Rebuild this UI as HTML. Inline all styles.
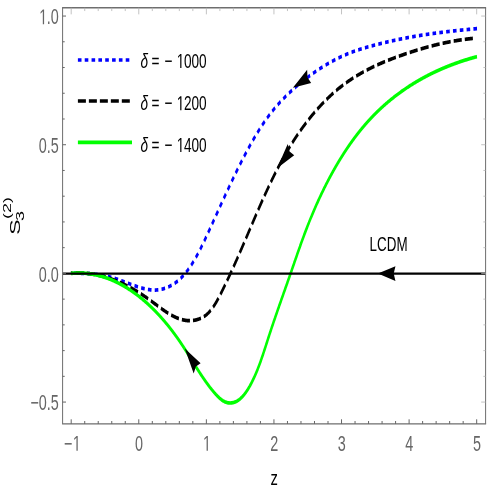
<!DOCTYPE html>
<html><head><meta charset="utf-8"><title>plot</title>
<style>
html,body{margin:0;padding:0;background:#fff;}
svg{display:block;font-family:"Liberation Sans",sans-serif;will-change:transform;opacity:0.999;filter:blur(0.35px);}
.tk{stroke:#666;stroke-width:1;}
.tk2{stroke:#b4b4b4;stroke-width:0.8;}
</style></head>
<body>
<svg width="491" height="491" viewBox="0 0 491 491">
<rect x="0" y="0" width="491" height="491" fill="#fff"/>
<g transform="scale(0.655 1)" fill="none" stroke-linecap="butt" stroke-linejoin="round">
<path d="M728.26,28.64 L727.74,28.67 L727.23,28.69 L726.71,28.72 L726.20,28.75 L725.69,28.78 L725.17,28.81 L724.66,28.84 L724.14,28.87 L723.63,28.90 L723.12,28.94 L722.60,28.97 L722.09,29.00 L721.57,29.03 L721.06,29.06 L720.55,29.09 L720.03,29.12 L719.52,29.15 L719.01,29.18 L718.49,29.21 L717.98,29.24 L717.46,29.28 L716.95,29.31 L716.44,29.34 L715.92,29.37 L715.41,29.40 L714.90,29.43 L714.38,29.47 L713.87,29.50 L713.36,29.53 L712.84,29.56 L712.33,29.60 L711.81,29.63 L711.30,29.66 L710.79,29.69 L710.27,29.73 L709.76,29.76 L709.25,29.79 L708.73,29.83 L708.22,29.86 L707.71,29.89 L707.19,29.93 L706.68,29.96 L706.17,29.99 L705.65,30.03 L705.14,30.06 L704.63,30.09 L704.11,30.13 L703.60,30.16 L703.09,30.20 L702.58,30.23 L702.06,30.27 L701.55,30.30 L701.04,30.34 L700.52,30.37 L700.01,30.41 L699.50,30.44 L698.98,30.48 L698.47,30.51 L697.96,30.55 L697.45,30.58 L696.93,30.62 L696.42,30.66 L695.91,30.69 L695.39,30.73 L694.88,30.77 L694.37,30.80 L693.86,30.84 L693.34,30.88 L692.83,30.91 L692.32,30.95 L691.80,30.99 L691.29,31.02 L690.78,31.06 L690.27,31.10 L689.75,31.14 L689.24,31.18 L688.73,31.21 L688.22,31.25 L687.70,31.29 L687.19,31.33 L686.68,31.37 L686.17,31.41 L685.65,31.45 L685.14,31.48 L684.63,31.52 L684.12,31.56 L683.60,31.60 L683.09,31.64 L682.58,31.68 L682.07,31.72 L681.55,31.76 L681.04,31.80 L680.53,31.84 L680.02,31.88 L679.51,31.93 L678.99,31.97 L678.48,32.01 L677.97,32.05 L677.46,32.09 L676.95,32.13 L676.43,32.17 L675.92,32.22 L675.41,32.26 L674.90,32.30 L674.38,32.34 L673.87,32.38 L673.36,32.43 L672.85,32.47 L672.34,32.51 L671.82,32.56 L671.31,32.60 L670.80,32.64 L670.29,32.69 L669.78,32.73 L669.27,32.77 L668.75,32.82 L668.24,32.86 L667.73,32.91 L667.22,32.95 L666.71,33.00 L666.19,33.04 L665.68,33.09 L665.17,33.13 L664.66,33.18 L664.15,33.22 L663.64,33.27 L663.12,33.32 L662.61,33.36 L662.10,33.41 L661.59,33.46 L661.08,33.50 L660.57,33.55 L660.05,33.60 L659.54,33.64 L659.03,33.69 L658.52,33.74 L658.01,33.79 L657.50,33.84 L656.99,33.88 L656.47,33.93 L655.96,33.98 L655.45,34.03 L654.94,34.08 L654.43,34.13 L653.92,34.18 L653.41,34.23 L652.89,34.28 L652.38,34.33 L651.87,34.38 L651.36,34.43 L650.85,34.48 L650.34,34.53 L649.83,34.58 L649.32,34.63 L648.80,34.68 L648.29,34.74 L647.78,34.79 L647.27,34.84 L646.76,34.89 L646.25,34.95 L645.74,35.00 L645.23,35.05 L644.71,35.10 L644.20,35.16 L643.69,35.21 L643.18,35.26 L642.67,35.32 L642.16,35.37 L641.65,35.43 L641.14,35.48 L640.63,35.54 L640.12,35.59 L639.60,35.65 L639.09,35.70 L638.58,35.76 L638.07,35.81 L637.56,35.87 L637.05,35.93 L636.54,35.98 L636.03,36.04 L635.52,36.10 L635.01,36.15 L634.50,36.21 L633.98,36.27 L633.47,36.33 L632.96,36.39 L632.45,36.44 L631.94,36.50 L631.43,36.56 L630.92,36.62 L630.41,36.68 L629.90,36.74 L629.39,36.80 L628.88,36.86 L628.37,36.92 L627.86,36.98 L627.35,37.04 L626.84,37.10 L626.32,37.16 L625.81,37.22 L625.30,37.28 L624.79,37.35 L624.28,37.41 L623.77,37.47 L623.26,37.53 L622.75,37.60 L622.24,37.66 L621.73,37.72 L621.22,37.79 L620.71,37.85 L620.20,37.91 L619.69,37.98 L619.18,38.04 L618.67,38.11 L618.16,38.17 L617.65,38.24 L617.14,38.30 L616.63,38.37 L616.12,38.43 L615.61,38.50 L615.09,38.57 L614.58,38.63 L614.07,38.70 L613.56,38.77 L613.05,38.84 L612.54,38.90 L612.03,38.97 L611.52,39.04 L611.01,39.11 L610.50,39.18 L609.99,39.25 L609.48,39.32 L608.97,39.38 L608.46,39.45 L607.95,39.52 L607.44,39.59 L606.93,39.67 L606.42,39.74 L605.91,39.81 L605.40,39.88 L604.89,39.95 L604.38,40.02 L603.87,40.09 L603.36,40.17 L602.85,40.24 L602.34,40.31 L601.83,40.38 L601.33,40.46 L600.82,40.53 L600.31,40.60 L599.80,40.68 L599.29,40.75 L598.78,40.83 L598.27,40.90 L597.76,40.98 L597.25,41.05 L596.74,41.13 L596.23,41.20 L595.72,41.28 L595.21,41.35 L594.70,41.43 L594.19,41.51 L593.69,41.58 L593.18,41.66 L592.67,41.74 L592.16,41.82 L591.65,41.89 L591.14,41.97 L590.63,42.05 L590.12,42.13 L589.62,42.21 L589.11,42.29 L588.60,42.37 L588.09,42.45 L587.58,42.53 L587.07,42.61 L586.56,42.69 L586.06,42.77 L585.55,42.85 L585.04,42.93 L584.53,43.01 L584.02,43.09 L583.52,43.17 L583.01,43.25 L582.50,43.34 L581.99,43.42 L581.48,43.50 L580.98,43.59 L580.47,43.67 L579.96,43.75 L579.45,43.84 L578.95,43.92 L578.44,44.00 L577.93,44.09 L577.43,44.17 L576.92,44.26 L576.41,44.34 L575.90,44.43 L575.40,44.51 L574.89,44.60 L574.38,44.69 L573.88,44.77 L573.37,44.86 L572.86,44.95 L572.36,45.03 L571.85,45.12 L571.35,45.21 L570.84,45.30 L570.33,45.38 L569.83,45.47 L569.32,45.56 L568.82,45.65 L568.31,45.74 L567.80,45.83 L567.30,45.92 L566.79,46.01 L566.29,46.10 L565.78,46.19 L565.28,46.28 L564.77,46.37 L564.27,46.46 L563.76,46.55 L563.26,46.65 L562.75,46.74 L562.25,46.83 L561.74,46.93 L561.24,47.02 L560.73,47.11 L560.23,47.21 L559.73,47.30 L559.22,47.40 L558.72,47.50 L558.21,47.59 L557.71,47.69 L557.21,47.79 L556.70,47.88 L556.20,47.98 L555.70,48.08 L555.19,48.18 L554.69,48.28 L554.19,48.38 L553.69,48.48 L553.18,48.58 L552.68,48.68 L552.18,48.79 L551.68,48.89 L551.17,48.99 L550.67,49.10 L550.17,49.20 L549.67,49.31 L549.17,49.41 L548.67,49.52 L548.17,49.63 L547.66,49.73 L547.16,49.84 L546.66,49.95 L546.16,50.06 L545.66,50.17 L545.16,50.28 L544.66,50.39 L544.16,50.51 L543.66,50.62 L543.16,50.73 L542.66,50.85 L542.16,50.96 L541.66,51.08 L541.16,51.20 L540.66,51.31 L540.17,51.43 L539.67,51.55 L539.17,51.67 L538.67,51.79 L538.17,51.91 L537.67,52.03 L537.18,52.16 L536.68,52.28 L536.18,52.41 L535.68,52.53 L535.19,52.66 L534.69,52.78 L534.19,52.91 L533.70,53.04 L533.20,53.17 L532.70,53.30 L532.21,53.43 L531.71,53.57 L531.22,53.70 L530.72,53.83 L530.22,53.97 L529.73,54.10 L529.23,54.24 L528.74,54.38 L528.25,54.52 L527.75,54.66 L527.26,54.80 L526.76,54.94 L526.27,55.08 L525.78,55.22 L525.28,55.36 L524.79,55.51 L524.30,55.65 L523.80,55.80 L523.31,55.95 L522.82,56.09 L522.33,56.24 L521.83,56.39 L521.34,56.54 L520.85,56.69 L520.36,56.85 L519.87,57.00 L519.38,57.15 L518.89,57.31 L518.40,57.46 L517.91,57.62 L517.42,57.77 L516.93,57.93 L516.44,58.09 L515.95,58.25 L515.46,58.41 L514.97,58.57 L514.48,58.73 L513.99,58.90 L513.51,59.06 L513.02,59.22 L512.53,59.39 L512.04,59.55 L511.55,59.72 L511.07,59.89 L510.58,60.06 L510.09,60.22 L509.61,60.39 L509.12,60.56 L508.64,60.74 L508.15,60.91 L507.67,61.08 L507.18,61.25 L506.70,61.43 L506.21,61.60 L505.73,61.78 L505.24,61.96 L504.76,62.13 L504.28,62.31 L503.79,62.49 L503.31,62.67 L502.83,62.85 L502.34,63.03 L501.86,63.22 L501.38,63.40 L500.90,63.58 L500.42,63.77 L499.94,63.95 L499.46,64.14 L498.98,64.33 L498.50,64.51 L498.02,64.70 L497.54,64.89 L497.06,65.08 L496.58,65.27 L496.10,65.46 L495.62,65.65 L495.14,65.85 L494.66,66.04 L494.19,66.23 L493.71,66.43 L493.23,66.62 L492.75,66.82 L492.28,67.02 L491.80,67.22 L491.32,67.41 L490.85,67.61 L490.37,67.81 L489.90,68.01 L489.42,68.22 L488.95,68.42 L488.47,68.62 L488.00,68.82 L487.53,69.03 L487.05,69.23 L486.58,69.44 L486.11,69.64 L485.64,69.85 L485.16,70.06 L484.69,70.27 L484.22,70.48 L483.75,70.69 L483.28,70.90 L482.81,71.11 L482.34,71.32 L481.87,71.53 L481.40,71.75 L480.93,71.96 L480.46,72.18 L479.99,72.39 L479.52,72.61 L479.06,72.82 L478.59,73.04 L478.12,73.26 L477.65,73.48 L477.19,73.70 L476.72,73.92 L476.25,74.14 L475.79,74.36 L475.32,74.58 L474.86,74.80 L474.39,75.03 L473.93,75.25 L473.47,75.48 L473.00,75.70 L472.54,75.93 L472.08,76.15 L471.61,76.38 L471.15,76.61 L470.69,76.84 L470.23,77.07 L469.77,77.30 L469.31,77.53 L468.85,77.76 L468.39,77.99 L467.93,78.22 L467.47,78.46 L467.01,78.69 L466.55,78.92 L466.09,79.16 L465.63,79.39 L465.18,79.63 L464.72,79.87 L464.26,80.11 L463.81,80.34 L463.35,80.58 L462.89,80.82 L462.44,81.06 L461.98,81.30 L461.53,81.54 L461.08,81.78 L460.62,82.03 L460.17,82.27 L459.71,82.51 L459.26,82.76 L458.81,83.00 L458.36,83.25 L457.91,83.49 L457.46,83.74 L457.01,83.99 L456.55,84.23 L456.10,84.48 L455.66,84.73 L455.21,84.98 L454.76,85.23 L454.31,85.48 L453.86,85.73 L453.41,85.98 L452.97,86.24 L452.52,86.49 L452.07,86.74 L451.63,87.00 L451.18,87.25 L450.74,87.51 L450.29,87.76 L449.85,88.02 L449.40,88.28 L448.96,88.53 L448.52,88.79 L448.08,89.05 L447.63,89.31 L447.19,89.57 L446.75,89.83 L446.31,90.09 L445.87,90.35 L445.43,90.62 L444.99,90.88 L444.55,91.14 L444.11,91.41 L443.68,91.67 L443.24,91.94 L442.80,92.20 L442.36,92.47 L441.93,92.74 L441.49,93.01 L441.06,93.28 L440.62,93.55 L440.19,93.82 L439.76,94.09 L439.32,94.36 L438.89,94.63 L438.46,94.91 L438.03,95.18 L437.60,95.46 L437.17,95.73 L436.74,96.01 L436.31,96.29 L435.88,96.57 L435.45,96.84 L435.02,97.12 L434.59,97.41 L434.17,97.69 L433.74,97.97 L433.32,98.25 L432.89,98.54 L432.47,98.82 L432.04,99.11 L431.62,99.39 L431.20,99.68 L430.78,99.97 L430.36,100.26 L429.93,100.55 L429.51,100.84 L429.10,101.13 L428.68,101.42 L428.26,101.72 L427.84,102.01 L427.42,102.30 L427.01,102.60 L426.59,102.90 L426.18,103.20 L425.76,103.49 L425.35,103.79 L424.93,104.10 L424.52,104.40 L424.11,104.70 L423.70,105.00 L423.29,105.31 L422.88,105.61 L422.47,105.92 L422.06,106.23 L421.65,106.54 L421.25,106.85 L420.84,107.16 L420.43,107.47 L420.03,107.78 L419.62,108.10 L419.22,108.41 L418.82,108.73 L418.42,109.04 L418.01,109.36 L417.61,109.68 L417.21,110.00 L416.81,110.32 L416.42,110.64 L416.02,110.97 L415.62,111.29 L415.22,111.62 L414.83,111.94 L414.43,112.27 L414.04,112.60 L413.65,112.93 L413.25,113.26 L412.86,113.59 L412.47,113.93 L412.08,114.26 L411.69,114.60 L411.30,114.93 L410.92,115.27 L410.53,115.61 L410.14,115.95 L409.76,116.29 L409.37,116.63 L408.99,116.98 L408.60,117.32 L408.22,117.66 L407.84,118.01 L407.46,118.36 L407.08,118.71 L406.70,119.05 L406.32,119.40 L405.94,119.75 L405.56,120.11 L405.18,120.46 L404.81,120.81 L404.43,121.17 L404.06,121.52 L403.68,121.88 L403.31,122.24 L402.94,122.59 L402.56,122.95 L402.19,123.31 L401.82,123.67 L401.45,124.03 L401.08,124.40 L400.71,124.76 L400.34,125.12 L399.98,125.49 L399.61,125.85 L399.24,126.22 L398.88,126.59 L398.51,126.96 L398.15,127.33 L397.79,127.69 L397.42,128.07 L397.06,128.44 L396.70,128.81 L396.34,129.18 L395.98,129.55 L395.62,129.93 L395.26,130.30 L394.90,130.68 L394.55,131.05 L394.19,131.43 L393.83,131.81 L393.48,132.18 L393.12,132.56 L392.77,132.94 L392.42,133.32 L392.06,133.70 L391.71,134.08 L391.36,134.47 L391.01,134.85 L390.66,135.23 L390.31,135.61 L389.96,136.00 L389.61,136.38 L389.26,136.77 L388.91,137.15 L388.57,137.54 L388.22,137.93 L387.88,138.31 L387.53,138.70 L387.19,139.09 L386.84,139.48 L386.50,139.87 L386.16,140.26 L385.81,140.65 L385.47,141.04 L385.13,141.43 L384.79,141.82 L384.45,142.21 L384.11,142.60 L383.77,143.00 L383.44,143.39 L383.10,143.78 L382.76,144.18 L382.43,144.57 L382.09,144.97 L381.76,145.36 L381.42,145.76 L381.09,146.15 L380.75,146.55 L380.42,146.95 L380.09,147.34 L379.76,147.74 L379.42,148.14 L379.09,148.53 L378.76,148.93 L378.43,149.33 L378.10,149.73 L377.78,150.13 L377.45,150.52 L377.12,150.92 L376.79,151.32 L376.47,151.72 L376.14,152.12 L375.82,152.52 L375.49,152.92 L375.17,153.32 L374.84,153.72 L374.52,154.12 L374.20,154.52 L373.87,154.93 L373.55,155.33 L373.23,155.73 L372.91,156.13 L372.59,156.53 L372.27,156.93 L371.95,157.34 L371.63,157.74 L371.31,158.14 L370.99,158.54 L370.68,158.95 L370.36,159.35 L370.04,159.75 L369.73,160.16 L369.41,160.56 L369.09,160.96 L368.78,161.37 L368.46,161.77 L368.15,162.17 L367.84,162.58 L367.52,162.98 L367.21,163.39 L366.90,163.79 L366.59,164.20 L366.27,164.60 L365.96,165.01 L365.65,165.41 L365.34,165.82 L365.03,166.23 L364.72,166.63 L364.41,167.04 L364.10,167.45 L363.79,167.85 L363.49,168.26 L363.18,168.67 L362.87,169.07 L362.56,169.48 L362.26,169.89 L361.95,170.29 L361.64,170.70 L361.34,171.11 L361.03,171.52 L360.73,171.93 L360.42,172.34 L360.12,172.74 L359.81,173.15 L359.51,173.56 L359.21,173.97 L358.90,174.38 L358.60,174.79 L358.30,175.20 L357.99,175.61 L357.69,176.02 L357.39,176.43 L357.09,176.84 L356.79,177.25 L356.49,177.66 L356.19,178.07 L355.89,178.48 L355.59,178.89 L355.29,179.30 L354.99,179.71 L354.69,180.12 L354.39,180.54 L354.09,180.95 L353.79,181.36 L353.49,181.77 L353.19,182.18 L352.89,182.60 L352.60,183.01 L352.30,183.42 L352.00,183.83 L351.70,184.25 L351.41,184.66 L351.11,185.07 L350.81,185.49 L350.52,185.90 L350.22,186.31 L349.93,186.73 L349.63,187.14 L349.33,187.55 L349.04,187.97 L348.74,188.38 L348.45,188.80 L348.15,189.21 L347.86,189.63 L347.56,190.04 L347.27,190.46 L346.97,190.87 L346.68,191.29 L346.39,191.70 L346.09,192.12 L345.80,192.53 L345.50,192.95 L345.21,193.36 L344.92,193.78 L344.62,194.20 L344.33,194.61 L344.04,195.03 L343.74,195.44 L343.45,195.86 L343.16,196.28 L342.87,196.69 L342.57,197.11 L342.28,197.53 L341.99,197.95 L341.70,198.36 L341.40,198.78 L341.11,199.20 L340.82,199.62 L340.53,200.03 L340.23,200.45 L339.94,200.87 L339.65,201.29 L339.36,201.71 L339.07,202.12 L338.77,202.54 L338.48,202.96 L338.19,203.38 L337.90,203.80 L337.61,204.22 L337.31,204.64 L337.02,205.06 L336.73,205.48 L336.44,205.90 L336.15,206.32 L335.85,206.74 L335.56,207.16 L335.27,207.58 L334.98,208.00 L334.69,208.42 L334.39,208.84 L334.10,209.26 L333.81,209.68 L333.52,210.10 L333.23,210.52 L332.93,210.94 L332.64,211.36 L332.35,211.78 L332.06,212.20 L331.76,212.62 L331.47,213.05 L331.18,213.47 L330.89,213.89 L330.59,214.31 L330.30,214.73 L330.01,215.15 L329.72,215.58 L329.42,216.00 L329.13,216.42 L328.84,216.84 L328.54,217.26 L328.25,217.69 L327.96,218.11 L327.66,218.53 L327.37,218.95 L327.07,219.38 L326.78,219.80 L326.49,220.22 L326.19,220.65 L325.90,221.07 L325.60,221.49 L325.31,221.92 L325.01,222.34 L324.72,222.76 L324.42,223.19 L324.13,223.61 L323.83,224.04 L323.53,224.46 L323.24,224.88 L322.94,225.31 L322.65,225.73 L322.35,226.16 L322.05,226.58 L321.76,227.01 L321.46,227.43 L321.16,227.85 L320.86,228.28 L320.56,228.70 L320.27,229.13 L319.97,229.55 L319.67,229.98 L319.37,230.40 L319.07,230.83 L318.77,231.26 L318.47,231.68 L318.17,232.11 L317.87,232.53 L317.57,232.96 L317.27,233.38 L316.97,233.81 L316.67,234.23 L316.37,234.66 L316.07,235.09 L315.77,235.51 L315.46,235.94 L315.16,236.36 L314.86,236.79 L314.56,237.22 L314.25,237.64 L313.95,238.07 L313.64,238.49 L313.34,238.92 L313.03,239.34 L312.73,239.77 L312.42,240.19 L312.12,240.62 L311.81,241.04 L311.50,241.47 L311.19,241.89 L310.89,242.31 L310.58,242.74 L310.27,243.16 L309.96,243.58 L309.65,244.00 L309.33,244.42 L309.02,244.85 L308.71,245.27 L308.40,245.68 L308.08,246.10 L307.77,246.52 L307.45,246.94 L307.14,247.36 L306.82,247.77 L306.51,248.19 L306.19,248.60 L305.87,249.02 L305.55,249.43 L305.23,249.85 L304.91,250.26 L304.59,250.67 L304.27,251.08 L303.94,251.49 L303.62,251.90 L303.29,252.31 L302.97,252.71 L302.64,253.12 L302.31,253.52 L301.99,253.93 L301.66,254.33 L301.33,254.73 L301.00,255.13 L300.66,255.53 L300.33,255.93 L300.00,256.33 L299.66,256.72 L299.33,257.12 L298.99,257.51 L298.65,257.90 L298.31,258.29 L297.97,258.68 L297.63,259.07 L297.29,259.46 L296.95,259.84 L296.60,260.23 L296.26,260.61 L295.91,260.99 L295.57,261.37 L295.22,261.75 L294.87,262.13 L294.52,262.50 L294.16,262.87 L293.81,263.25 L293.46,263.62 L293.10,263.99 L292.74,264.35 L292.38,264.72 L292.02,265.08 L291.66,265.44 L291.30,265.80 L290.94,266.16 L290.57,266.52 L290.21,266.87 L289.84,267.23 L289.47,267.58 L289.10,267.93 L288.73,268.27 L288.36,268.62 L287.98,268.96 L287.61,269.30 L287.23,269.64 L286.85,269.98 L286.47,270.32 L286.09,270.65 L285.70,270.98 L285.32,271.31 L284.93,271.63 L284.54,271.96 L284.16,272.28 L283.76,272.60 L283.37,272.92 L282.98,273.23 L282.58,273.55 L282.18,273.86 L281.79,274.17 L281.38,274.47 L280.98,274.78 L280.58,275.08 L280.17,275.38 L279.77,275.67 L279.36,275.97 L278.95,276.26 L278.53,276.55 L278.12,276.83 L277.70,277.11 L277.29,277.40 L276.87,277.67 L276.44,277.95 L276.02,278.22 L275.60,278.49 L275.17,278.76 L274.74,279.02 L274.31,279.29 L273.88,279.54 L273.44,279.80 L273.01,280.05 L272.57,280.30 L272.13,280.55 L271.69,280.80 L271.24,281.04 L270.80,281.28 L270.35,281.51 L269.90,281.75 L269.45,281.98 L269.00,282.20 L268.54,282.43 L268.09,282.65 L267.63,282.87 L267.17,283.08 L266.71,283.29 L266.25,283.50 L265.79,283.71 L265.32,283.91 L264.85,284.11 L264.39,284.31 L263.92,284.50 L263.45,284.69 L262.97,284.88 L262.50,285.06 L262.02,285.24 L261.55,285.42 L261.07,285.60 L260.59,285.77 L260.11,285.94 L259.63,286.10 L259.15,286.26 L258.66,286.42 L258.18,286.58 L257.69,286.73 L257.21,286.88 L256.72,287.03 L256.23,287.17 L255.74,287.31 L255.25,287.44 L254.75,287.58 L254.26,287.71 L253.77,287.83 L253.27,287.95 L252.78,288.07 L252.28,288.19 L251.78,288.30 L251.28,288.41 L250.78,288.52 L250.28,288.62 L249.78,288.72 L249.28,288.81 L248.78,288.91 L248.28,289.00 L247.77,289.08 L247.27,289.16 L246.76,289.24 L246.26,289.32 L245.75,289.39 L245.25,289.45 L244.74,289.52 L244.23,289.58 L243.72,289.64 L243.22,289.69 L242.71,289.74 L242.20,289.79 L241.69,289.83 L241.18,289.87 L240.67,289.90 L240.16,289.94 L239.65,289.96 L239.14,289.99 L238.62,290.01 L238.11,290.03 L237.60,290.04 L237.09,290.05 L236.58,290.06 L236.07,290.06 L235.55,290.06 L235.04,290.05 L234.53,290.05 L234.02,290.04 L233.50,290.02 L232.99,290.00 L232.48,289.98 L231.97,289.96 L231.45,289.93 L230.94,289.90 L230.43,289.87 L229.91,289.84 L229.40,289.80 L228.89,289.76 L228.37,289.71 L227.86,289.67 L227.35,289.62 L226.83,289.56 L226.32,289.51 L225.81,289.45 L225.29,289.39 L224.78,289.33 L224.27,289.27 L223.76,289.20 L223.24,289.13 L222.73,289.06 L222.22,288.98 L221.70,288.91 L221.19,288.83 L220.68,288.75 L220.17,288.67 L219.65,288.59 L219.14,288.50 L218.63,288.41 L218.12,288.32 L217.61,288.23 L217.10,288.14 L216.59,288.04 L216.07,287.95 L215.56,287.85 L215.05,287.75 L214.54,287.65 L214.03,287.55 L213.52,287.45 L213.01,287.34 L212.50,287.24 L212.00,287.13 L211.49,287.02 L210.98,286.91 L210.47,286.80 L209.96,286.69 L209.45,286.58 L208.95,286.47 L208.44,286.35 L207.93,286.24 L207.43,286.12 L206.92,286.01 L206.42,285.89 L205.91,285.77 L205.41,285.65 L204.90,285.53 L204.40,285.41 L203.89,285.29 L203.39,285.17 L202.89,285.05 L202.38,284.93 L201.88,284.81 L201.38,284.69 L200.87,284.56 L200.37,284.44 L199.87,284.32 L199.37,284.19 L198.87,284.07 L198.36,283.94 L197.86,283.82 L197.36,283.69 L196.86,283.57 L196.36,283.44 L195.86,283.32 L195.36,283.19 L194.86,283.06 L194.36,282.94 L193.86,282.81 L193.36,282.69 L192.86,282.56 L192.36,282.44 L191.86,282.31 L191.36,282.19 L190.86,282.06 L190.36,281.93 L189.86,281.81 L189.36,281.69 L188.86,281.56 L188.36,281.44 L187.86,281.31 L187.36,281.19 L186.86,281.07 L186.36,280.94 L185.86,280.82 L185.37,280.70 L184.87,280.58 L184.37,280.46 L183.87,280.34 L183.37,280.22 L182.87,280.10 L182.37,279.98 L181.87,279.87 L181.37,279.75 L180.87,279.63 L180.37,279.52 L179.87,279.40 L179.37,279.29 L178.87,279.18 L178.37,279.06 L177.87,278.95 L177.37,278.84 L176.87,278.73 L176.37,278.63 L175.87,278.52 L175.37,278.41 L174.87,278.31 L174.36,278.20 L173.86,278.10 L173.36,278.00 L172.86,277.90 L172.36,277.80 L171.86,277.70 L171.35,277.60 L170.85,277.51 L170.35,277.41 L169.84,277.32 L169.34,277.23 L168.84,277.14 L168.33,277.05 L167.83,276.96 L167.33,276.88 L166.82,276.79 L166.32,276.71 L165.81,276.62 L165.31,276.54 L164.80,276.46 L164.30,276.38 L163.79,276.31 L163.28,276.23 L162.78,276.15 L162.27,276.08 L161.76,276.01 L161.26,275.93 L160.75,275.86 L160.24,275.79 L159.74,275.72 L159.23,275.66 L158.72,275.59 L158.21,275.53 L157.71,275.46 L157.20,275.40 L156.69,275.34 L156.18,275.28 L155.67,275.22 L155.16,275.16 L154.65,275.10 L154.14,275.04 L153.64,274.99 L153.13,274.93 L152.62,274.88 L152.11,274.83 L151.60,274.78 L151.09,274.72 L150.58,274.68 L150.07,274.63 L149.55,274.58 L149.04,274.53 L148.53,274.49 L148.02,274.44 L147.51,274.40 L147.00,274.36 L146.49,274.31 L145.98,274.27 L145.46,274.23 L144.95,274.20 L144.44,274.16 L143.93,274.12 L143.42,274.08 L142.90,274.05 L142.39,274.01 L141.88,273.98 L141.36,273.95 L140.85,273.91 L140.34,273.88 L139.83,273.85 L139.31,273.82 L138.80,273.80 L138.29,273.77 L137.77,273.74 L137.26,273.71 L136.74,273.69 L136.23,273.66 L135.72,273.64 L135.20,273.62 L134.69,273.59 L134.17,273.57 L133.66,273.55 L133.14,273.53 L132.63,273.51 L132.11,273.49 L131.60,273.47 L131.08,273.46 L130.57,273.44 L130.05,273.42 L129.54,273.41 L129.02,273.39 L128.51,273.38 L127.99,273.37 L127.48,273.35 L126.96,273.34 L126.45,273.33 L125.93,273.32 L125.41,273.31 L124.90,273.30 L124.38,273.29 L123.87,273.28 L123.35,273.27 L122.83,273.27 L122.32,273.26 L121.80,273.25 L121.29,273.25 L120.77,273.24 L120.25,273.24 L119.74,273.23 L119.22,273.23 L118.70,273.23 L118.19,273.22 L117.67,273.22 L117.15,273.22 L116.64,273.22 L116.12,273.22 L115.60,273.22 L115.09,273.22 L114.57,273.22 L114.05,273.22 L113.54,273.22 L113.02,273.22 L112.50,273.23 L111.99,273.23 L111.47,273.23 L110.95,273.24 L110.44,273.24 L109.92,273.25 L109.40,273.25 L108.88,273.25 L108.37,273.26" stroke="#0000ff" stroke-width="3.7" stroke-dasharray="5.50 4.93"/>
<path d="M721.93,38.42 L721.39,38.46 L720.86,38.49 L720.32,38.53 L719.79,38.56 L719.26,38.60 L718.72,38.64 L718.19,38.68 L717.65,38.71 L717.12,38.75 L716.59,38.79 L716.06,38.83 L715.52,38.87 L714.99,38.92 L714.46,38.96 L713.93,39.00 L713.39,39.04 L712.86,39.08 L712.33,39.13 L711.80,39.17 L711.27,39.22 L710.74,39.26 L710.20,39.31 L709.67,39.35 L709.14,39.40 L708.61,39.45 L708.08,39.49 L707.55,39.54 L707.02,39.59 L706.49,39.64 L705.96,39.69 L705.43,39.74 L704.90,39.79 L704.37,39.84 L703.84,39.89 L703.32,39.94 L702.79,40.00 L702.26,40.05 L701.73,40.10 L701.20,40.16 L700.67,40.21 L700.15,40.26 L699.62,40.32 L699.09,40.38 L698.56,40.43 L698.04,40.49 L697.51,40.54 L696.98,40.60 L696.45,40.66 L695.93,40.72 L695.40,40.78 L694.88,40.84 L694.35,40.90 L693.82,40.96 L693.30,41.02 L692.77,41.08 L692.24,41.14 L691.72,41.20 L691.19,41.27 L690.67,41.33 L690.14,41.39 L689.62,41.46 L689.09,41.52 L688.57,41.58 L688.04,41.65 L687.52,41.72 L686.99,41.78 L686.47,41.85 L685.95,41.92 L685.42,41.98 L684.90,42.05 L684.37,42.12 L683.85,42.19 L683.33,42.26 L682.80,42.33 L682.28,42.40 L681.76,42.47 L681.23,42.54 L680.71,42.61 L680.19,42.68 L679.66,42.75 L679.14,42.83 L678.62,42.90 L678.10,42.97 L677.57,43.05 L677.05,43.12 L676.53,43.20 L676.01,43.27 L675.49,43.35 L674.96,43.42 L674.44,43.50 L673.92,43.58 L673.40,43.65 L672.88,43.73 L672.36,43.81 L671.83,43.89 L671.31,43.97 L670.79,44.05 L670.27,44.13 L669.75,44.21 L669.23,44.29 L668.71,44.37 L668.19,44.45 L667.67,44.53 L667.15,44.62 L666.63,44.70 L666.11,44.78 L665.59,44.86 L665.07,44.95 L664.55,45.03 L664.03,45.12 L663.51,45.20 L662.99,45.29 L662.47,45.37 L661.95,45.46 L661.43,45.55 L660.91,45.63 L660.39,45.72 L659.87,45.81 L659.35,45.90 L658.83,45.99 L658.31,46.08 L657.79,46.17 L657.27,46.26 L656.75,46.35 L656.23,46.44 L655.71,46.53 L655.20,46.62 L654.68,46.71 L654.16,46.80 L653.64,46.90 L653.12,46.99 L652.60,47.08 L652.08,47.18 L651.56,47.27 L651.05,47.36 L650.53,47.46 L650.01,47.55 L649.49,47.65 L648.97,47.75 L648.45,47.84 L647.94,47.94 L647.42,48.04 L646.90,48.13 L646.38,48.23 L645.86,48.33 L645.35,48.43 L644.83,48.53 L644.31,48.63 L643.79,48.73 L643.27,48.83 L642.76,48.93 L642.24,49.03 L641.72,49.13 L641.20,49.23 L640.69,49.33 L640.17,49.43 L639.65,49.54 L639.13,49.64 L638.61,49.74 L638.10,49.84 L637.58,49.95 L637.06,50.05 L636.54,50.16 L636.03,50.26 L635.51,50.37 L634.99,50.47 L634.47,50.58 L633.96,50.69 L633.44,50.79 L632.92,50.90 L632.40,51.01 L631.89,51.11 L631.37,51.22 L630.85,51.33 L630.33,51.44 L629.82,51.55 L629.30,51.66 L628.78,51.77 L628.26,51.88 L627.75,51.99 L627.23,52.10 L626.71,52.21 L626.19,52.32 L625.68,52.43 L625.16,52.54 L624.64,52.66 L624.12,52.77 L623.61,52.88 L623.09,52.99 L622.57,53.11 L622.05,53.22 L621.54,53.34 L621.02,53.45 L620.50,53.56 L619.98,53.68 L619.47,53.80 L618.95,53.91 L618.43,54.03 L617.91,54.14 L617.40,54.26 L616.88,54.38 L616.36,54.49 L615.84,54.61 L615.32,54.73 L614.81,54.85 L614.29,54.97 L613.77,55.09 L613.25,55.21 L612.74,55.32 L612.22,55.44 L611.70,55.56 L611.18,55.69 L610.66,55.81 L610.15,55.93 L609.63,56.05 L609.11,56.17 L608.59,56.29 L608.08,56.42 L607.56,56.54 L607.04,56.66 L606.52,56.79 L606.01,56.91 L605.49,57.04 L604.97,57.16 L604.45,57.29 L603.94,57.41 L603.42,57.54 L602.90,57.67 L602.38,57.79 L601.87,57.92 L601.35,58.05 L600.83,58.18 L600.32,58.31 L599.80,58.43 L599.28,58.56 L598.77,58.69 L598.25,58.82 L597.73,58.96 L597.22,59.09 L596.70,59.22 L596.18,59.35 L595.67,59.48 L595.15,59.62 L594.64,59.75 L594.12,59.88 L593.60,60.02 L593.09,60.15 L592.57,60.29 L592.06,60.43 L591.54,60.56 L591.03,60.70 L590.51,60.84 L590.00,60.97 L589.48,61.11 L588.97,61.25 L588.45,61.39 L587.94,61.53 L587.42,61.67 L586.91,61.81 L586.39,61.95 L585.88,62.10 L585.37,62.24 L584.85,62.38 L584.34,62.53 L583.83,62.67 L583.31,62.81 L582.80,62.96 L582.29,63.11 L581.78,63.25 L581.26,63.40 L580.75,63.55 L580.24,63.69 L579.73,63.84 L579.22,63.99 L578.70,64.14 L578.19,64.29 L577.68,64.44 L577.17,64.59 L576.66,64.75 L576.15,64.90 L575.64,65.05 L575.13,65.20 L574.62,65.36 L574.11,65.51 L573.60,65.67 L573.09,65.83 L572.58,65.98 L572.07,66.14 L571.56,66.30 L571.06,66.46 L570.55,66.62 L570.04,66.78 L569.53,66.94 L569.02,67.10 L568.52,67.26 L568.01,67.42 L567.50,67.58 L567.00,67.75 L566.49,67.91 L565.98,68.08 L565.48,68.24 L564.97,68.41 L564.47,68.58 L563.96,68.74 L563.46,68.91 L562.95,69.08 L562.45,69.25 L561.95,69.42 L561.44,69.59 L560.94,69.76 L560.44,69.94 L559.94,70.11 L559.43,70.28 L558.93,70.46 L558.43,70.63 L557.93,70.81 L557.43,70.99 L556.93,71.16 L556.43,71.34 L555.93,71.52 L555.43,71.70 L554.93,71.88 L554.43,72.06 L553.93,72.24 L553.43,72.42 L552.93,72.61 L552.43,72.79 L551.94,72.98 L551.44,73.16 L550.94,73.35 L550.44,73.54 L549.95,73.72 L549.45,73.91 L548.96,74.10 L548.46,74.29 L547.97,74.48 L547.47,74.67 L546.98,74.87 L546.49,75.06 L545.99,75.25 L545.50,75.45 L545.01,75.64 L544.51,75.84 L544.02,76.04 L543.53,76.24 L543.04,76.43 L542.55,76.63 L542.06,76.83 L541.57,77.04 L541.08,77.24 L540.59,77.44 L540.10,77.65 L539.61,77.85 L539.13,78.06 L538.64,78.26 L538.15,78.47 L537.67,78.68 L537.18,78.89 L536.69,79.10 L536.21,79.31 L535.72,79.52 L535.24,79.73 L534.76,79.94 L534.27,80.16 L533.79,80.37 L533.31,80.59 L532.82,80.81 L532.34,81.02 L531.86,81.24 L531.38,81.46 L530.90,81.68 L530.42,81.90 L529.94,82.13 L529.46,82.35 L528.98,82.57 L528.51,82.80 L528.03,83.02 L527.55,83.25 L527.07,83.48 L526.60,83.71 L526.12,83.94 L525.65,84.17 L525.17,84.40 L524.70,84.63 L524.22,84.86 L523.75,85.10 L523.28,85.33 L522.81,85.57 L522.33,85.81 L521.86,86.05 L521.39,86.28 L520.92,86.52 L520.45,86.77 L519.98,87.01 L519.52,87.25 L519.05,87.50 L518.58,87.74 L518.11,87.99 L517.65,88.23 L517.18,88.48 L516.72,88.73 L516.25,88.98 L515.79,89.23 L515.32,89.48 L514.86,89.74 L514.40,89.99 L513.93,90.24 L513.47,90.50 L513.01,90.76 L512.55,91.01 L512.09,91.27 L511.63,91.53 L511.17,91.79 L510.71,92.05 L510.26,92.32 L509.80,92.58 L509.34,92.84 L508.89,93.11 L508.43,93.37 L507.97,93.64 L507.52,93.91 L507.07,94.18 L506.61,94.45 L506.16,94.72 L505.71,94.99 L505.25,95.26 L504.80,95.53 L504.35,95.81 L503.90,96.08 L503.45,96.36 L503.00,96.64 L502.55,96.91 L502.11,97.19 L501.66,97.47 L501.21,97.75 L500.76,98.03 L500.32,98.32 L499.87,98.60 L499.43,98.88 L498.98,99.17 L498.54,99.45 L498.10,99.74 L497.65,100.03 L497.21,100.32 L496.77,100.61 L496.33,100.90 L495.89,101.19 L495.45,101.48 L495.01,101.77 L494.57,102.07 L494.13,102.36 L493.69,102.66 L493.26,102.95 L492.82,103.25 L492.38,103.55 L491.95,103.85 L491.51,104.15 L491.08,104.45 L490.65,104.75 L490.21,105.05 L489.78,105.35 L489.35,105.66 L488.92,105.96 L488.49,106.27 L488.06,106.57 L487.63,106.88 L487.20,107.19 L486.77,107.50 L486.34,107.81 L485.91,108.12 L485.48,108.43 L485.06,108.74 L484.63,109.05 L484.21,109.37 L483.78,109.68 L483.36,110.00 L482.93,110.31 L482.51,110.63 L482.09,110.95 L481.67,111.27 L481.25,111.58 L480.82,111.90 L480.40,112.23 L479.98,112.55 L479.57,112.87 L479.15,113.19 L478.73,113.52 L478.31,113.84 L477.90,114.17 L477.48,114.49 L477.06,114.82 L476.65,115.15 L476.23,115.48 L475.82,115.81 L475.41,116.14 L474.99,116.47 L474.58,116.80 L474.17,117.13 L473.76,117.47 L473.35,117.80 L472.94,118.13 L472.53,118.47 L472.12,118.81 L471.71,119.14 L471.31,119.48 L470.90,119.82 L470.49,120.16 L470.09,120.50 L469.68,120.84 L469.28,121.18 L468.87,121.52 L468.47,121.87 L468.07,122.21 L467.67,122.55 L467.26,122.90 L466.86,123.24 L466.46,123.59 L466.06,123.94 L465.66,124.29 L465.27,124.64 L464.87,124.98 L464.47,125.33 L464.07,125.69 L463.68,126.04 L463.28,126.39 L462.89,126.74 L462.49,127.10 L462.10,127.45 L461.71,127.80 L461.31,128.16 L460.92,128.52 L460.53,128.87 L460.14,129.23 L459.75,129.59 L459.36,129.95 L458.97,130.31 L458.58,130.67 L458.19,131.03 L457.81,131.39 L457.42,131.75 L457.03,132.12 L456.65,132.48 L456.26,132.85 L455.88,133.21 L455.50,133.58 L455.11,133.94 L454.73,134.31 L454.35,134.68 L453.97,135.05 L453.59,135.42 L453.21,135.79 L452.83,136.16 L452.45,136.53 L452.07,136.90 L451.70,137.27 L451.32,137.64 L450.94,138.02 L450.57,138.39 L450.19,138.77 L449.82,139.14 L449.44,139.52 L449.07,139.89 L448.70,140.27 L448.33,140.65 L447.96,141.03 L447.59,141.41 L447.22,141.79 L446.85,142.17 L446.48,142.55 L446.11,142.93 L445.74,143.31 L445.38,143.69 L445.01,144.08 L444.64,144.46 L444.28,144.85 L443.91,145.23 L443.55,145.62 L443.19,146.00 L442.83,146.39 L442.46,146.78 L442.10,147.17 L441.74,147.56 L441.38,147.94 L441.02,148.33 L440.66,148.72 L440.31,149.12 L439.95,149.51 L439.59,149.90 L439.24,150.29 L438.88,150.69 L438.53,151.08 L438.17,151.47 L437.82,151.87 L437.46,152.26 L437.11,152.66 L436.76,153.06 L436.41,153.45 L436.06,153.85 L435.71,154.25 L435.36,154.65 L435.01,155.05 L434.66,155.45 L434.32,155.85 L433.97,156.25 L433.62,156.65 L433.28,157.05 L432.93,157.46 L432.59,157.86 L432.25,158.26 L431.90,158.67 L431.56,159.07 L431.22,159.48 L430.88,159.88 L430.54,160.29 L430.20,160.69 L429.86,161.10 L429.52,161.51 L429.18,161.92 L428.85,162.32 L428.51,162.73 L428.17,163.14 L427.84,163.55 L427.50,163.96 L427.17,164.37 L426.83,164.79 L426.50,165.20 L426.17,165.61 L425.83,166.02 L425.50,166.44 L425.17,166.85 L424.84,167.26 L424.51,167.68 L424.18,168.09 L423.85,168.51 L423.52,168.92 L423.20,169.34 L422.87,169.76 L422.54,170.17 L422.21,170.59 L421.89,171.01 L421.56,171.43 L421.24,171.85 L420.91,172.26 L420.59,172.68 L420.27,173.10 L419.94,173.52 L419.62,173.94 L419.30,174.37 L418.98,174.79 L418.65,175.21 L418.33,175.63 L418.01,176.05 L417.69,176.48 L417.38,176.90 L417.06,177.32 L416.74,177.75 L416.42,178.17 L416.10,178.60 L415.79,179.02 L415.47,179.45 L415.15,179.87 L414.84,180.30 L414.52,180.73 L414.21,181.15 L413.89,181.58 L413.58,182.01 L413.26,182.44 L412.95,182.86 L412.64,183.29 L412.33,183.72 L412.01,184.15 L411.70,184.58 L411.39,185.01 L411.08,185.44 L410.77,185.87 L410.46,186.30 L410.15,186.73 L409.84,187.16 L409.53,187.59 L409.22,188.02 L408.92,188.46 L408.61,188.89 L408.30,189.32 L407.99,189.75 L407.69,190.19 L407.38,190.62 L407.07,191.05 L406.77,191.49 L406.46,191.92 L406.16,192.36 L405.85,192.79 L405.55,193.23 L405.25,193.66 L404.94,194.10 L404.64,194.53 L404.33,194.97 L404.03,195.40 L403.73,195.84 L403.43,196.28 L403.13,196.71 L402.82,197.15 L402.52,197.59 L402.22,198.03 L401.92,198.46 L401.62,198.90 L401.32,199.34 L401.02,199.78 L400.72,200.22 L400.42,200.65 L400.12,201.09 L399.82,201.53 L399.53,201.97 L399.23,202.41 L398.93,202.85 L398.63,203.29 L398.33,203.73 L398.04,204.17 L397.74,204.61 L397.44,205.05 L397.15,205.49 L396.85,205.93 L396.55,206.37 L396.26,206.81 L395.96,207.25 L395.67,207.69 L395.37,208.13 L395.08,208.58 L394.78,209.02 L394.49,209.46 L394.19,209.90 L393.90,210.34 L393.60,210.78 L393.31,211.23 L393.02,211.67 L392.72,212.11 L392.43,212.55 L392.14,213.00 L391.84,213.44 L391.55,213.88 L391.26,214.32 L390.96,214.77 L390.67,215.21 L390.38,215.65 L390.09,216.10 L389.80,216.54 L389.50,216.98 L389.21,217.43 L388.92,217.87 L388.63,218.31 L388.34,218.76 L388.05,219.20 L387.76,219.64 L387.46,220.09 L387.17,220.53 L386.88,220.97 L386.59,221.42 L386.30,221.86 L386.01,222.30 L385.72,222.75 L385.43,223.19 L385.14,223.64 L384.85,224.08 L384.56,224.52 L384.27,224.97 L383.98,225.41 L383.69,225.85 L383.40,226.30 L383.11,226.74 L382.82,227.19 L382.53,227.63 L382.24,228.07 L381.95,228.52 L381.66,228.96 L381.38,229.41 L381.09,229.85 L380.80,230.29 L380.51,230.74 L380.22,231.18 L379.93,231.62 L379.64,232.07 L379.35,232.51 L379.06,232.95 L378.77,233.40 L378.48,233.84 L378.19,234.28 L377.91,234.73 L377.62,235.17 L377.33,235.61 L377.04,236.06 L376.75,236.50 L376.46,236.94 L376.17,237.39 L375.88,237.83 L375.59,238.27 L375.30,238.71 L375.01,239.16 L374.72,239.60 L374.44,240.04 L374.15,240.48 L373.86,240.92 L373.57,241.37 L373.28,241.81 L372.99,242.25 L372.70,242.69 L372.41,243.13 L372.12,243.57 L371.83,244.02 L371.54,244.46 L371.25,244.90 L370.96,245.34 L370.67,245.78 L370.38,246.22 L370.09,246.66 L369.80,247.10 L369.51,247.54 L369.22,247.98 L368.93,248.42 L368.63,248.86 L368.34,249.30 L368.05,249.74 L367.76,250.18 L367.47,250.61 L367.18,251.05 L366.89,251.49 L366.59,251.93 L366.30,252.37 L366.01,252.81 L365.72,253.24 L365.43,253.68 L365.13,254.12 L364.84,254.56 L364.55,254.99 L364.25,255.43 L363.96,255.87 L363.67,256.30 L363.37,256.74 L363.08,257.18 L362.79,257.61 L362.49,258.05 L362.20,258.49 L361.90,258.92 L361.61,259.36 L361.31,259.79 L361.02,260.23 L360.72,260.66 L360.43,261.10 L360.13,261.54 L359.83,261.97 L359.54,262.40 L359.24,262.84 L358.94,263.27 L358.65,263.71 L358.35,264.14 L358.05,264.58 L357.75,265.01 L357.46,265.44 L357.16,265.88 L356.86,266.31 L356.56,266.75 L356.26,267.18 L355.96,267.61 L355.66,268.05 L355.36,268.48 L355.06,268.91 L354.76,269.34 L354.46,269.78 L354.15,270.21 L353.85,270.64 L353.55,271.07 L353.25,271.51 L352.94,271.94 L352.64,272.37 L352.34,272.80 L352.03,273.23 L351.73,273.67 L351.42,274.10 L351.12,274.53 L350.81,274.96 L350.51,275.39 L350.20,275.82 L349.89,276.25 L349.59,276.69 L349.28,277.12 L348.97,277.55 L348.66,277.98 L348.35,278.41 L348.04,278.84 L347.74,279.27 L347.43,279.70 L347.11,280.13 L346.80,280.56 L346.49,280.99 L346.18,281.42 L345.87,281.85 L345.56,282.28 L345.24,282.71 L344.93,283.14 L344.62,283.57 L344.30,284.00 L343.99,284.43 L343.67,284.86 L343.35,285.29 L343.04,285.72 L342.72,286.14 L342.40,286.57 L342.09,287.00 L341.77,287.43 L341.45,287.86 L341.13,288.29 L340.81,288.72 L340.49,289.15 L340.17,289.57 L339.85,290.00 L339.53,290.43 L339.20,290.86 L338.88,291.29 L338.56,291.72 L338.23,292.14 L337.91,292.57 L337.58,293.00 L337.26,293.43 L336.93,293.85 L336.60,294.28 L336.27,294.71 L335.94,295.13 L335.61,295.56 L335.28,295.98 L334.95,296.40 L334.61,296.82 L334.28,297.24 L333.94,297.66 L333.60,298.08 L333.27,298.50 L332.93,298.91 L332.58,299.32 L332.24,299.73 L331.90,300.14 L331.55,300.55 L331.20,300.96 L330.85,301.36 L330.50,301.76 L330.15,302.16 L329.79,302.56 L329.44,302.95 L329.08,303.35 L328.72,303.74 L328.35,304.12 L327.99,304.51 L327.62,304.89 L327.25,305.27 L326.88,305.64 L326.51,306.01 L326.13,306.38 L325.75,306.75 L325.37,307.11 L324.99,307.47 L324.60,307.83 L324.21,308.18 L323.82,308.53 L323.43,308.87 L323.03,309.21 L322.63,309.55 L322.23,309.88 L321.82,310.21 L321.42,310.53 L321.01,310.85 L320.59,311.17 L320.17,311.48 L319.75,311.79 L319.33,312.09 L318.90,312.38 L318.47,312.68 L318.04,312.96 L317.60,313.24 L317.16,313.52 L316.72,313.79 L316.27,314.06 L315.82,314.32 L315.36,314.58 L314.91,314.82 L314.44,315.07 L313.98,315.31 L313.51,315.54 L313.04,315.77 L312.56,315.99 L312.08,316.21 L311.60,316.42 L311.11,316.62 L310.62,316.82 L310.13,317.02 L309.64,317.21 L309.14,317.39 L308.64,317.57 L308.14,317.75 L307.64,317.91 L307.13,318.08 L306.62,318.23 L306.11,318.39 L305.60,318.53 L305.08,318.68 L304.57,318.81 L304.05,318.95 L303.53,319.07 L303.00,319.20 L302.48,319.31 L301.96,319.42 L301.43,319.53 L300.90,319.63 L300.37,319.73 L299.84,319.82 L299.31,319.91 L298.78,319.99 L298.25,320.07 L297.72,320.14 L297.18,320.21 L296.65,320.27 L296.12,320.33 L295.58,320.39 L295.05,320.43 L294.51,320.48 L293.98,320.52 L293.44,320.55 L292.91,320.58 L292.37,320.61 L291.84,320.63 L291.30,320.65 L290.77,320.66 L290.24,320.67 L289.70,320.67 L289.17,320.67 L288.64,320.66 L288.11,320.65 L287.58,320.64 L287.05,320.62 L286.53,320.60 L286.00,320.57 L285.48,320.54 L284.95,320.50 L284.43,320.47 L283.91,320.42 L283.39,320.37 L282.86,320.32 L282.35,320.27 L281.83,320.21 L281.31,320.14 L280.79,320.08 L280.27,320.01 L279.76,319.93 L279.24,319.85 L278.73,319.77 L278.22,319.69 L277.70,319.60 L277.19,319.50 L276.68,319.41 L276.17,319.31 L275.66,319.21 L275.15,319.10 L274.65,318.99 L274.14,318.88 L273.63,318.76 L273.13,318.64 L272.62,318.52 L272.12,318.39 L271.61,318.27 L271.11,318.14 L270.61,318.00 L270.10,317.86 L269.60,317.72 L269.10,317.58 L268.60,317.43 L268.10,317.29 L267.60,317.13 L267.10,316.98 L266.61,316.82 L266.11,316.66 L265.61,316.50 L265.12,316.34 L264.62,316.17 L264.12,316.00 L263.63,315.83 L263.14,315.66 L262.64,315.48 L262.15,315.30 L261.66,315.12 L261.16,314.94 L260.67,314.76 L260.18,314.57 L259.69,314.38 L259.20,314.19 L258.71,314.00 L258.22,313.80 L257.73,313.60 L257.24,313.41 L256.75,313.21 L256.26,313.00 L255.77,312.80 L255.29,312.60 L254.80,312.39 L254.31,312.18 L253.82,311.97 L253.34,311.76 L252.85,311.54 L252.37,311.33 L251.88,311.11 L251.40,310.90 L250.91,310.68 L250.43,310.46 L249.94,310.24 L249.46,310.02 L248.97,309.79 L248.49,309.57 L248.00,309.34 L247.52,309.12 L247.04,308.89 L246.55,308.66 L246.07,308.43 L245.59,308.20 L245.10,307.97 L244.62,307.74 L244.14,307.51 L243.66,307.28 L243.17,307.05 L242.69,306.81 L242.21,306.58 L241.73,306.34 L241.25,306.11 L240.76,305.87 L240.28,305.64 L239.80,305.40 L239.32,305.16 L238.84,304.93 L238.35,304.69 L237.87,304.45 L237.39,304.22 L236.91,303.98 L236.43,303.74 L235.94,303.51 L235.46,303.27 L234.98,303.03 L234.50,302.79 L234.01,302.56 L233.53,302.32 L233.05,302.09 L232.57,301.85 L232.08,301.61 L231.60,301.38 L231.12,301.14 L230.63,300.91 L230.15,300.68 L229.67,300.44 L229.18,300.21 L228.70,299.98 L228.21,299.75 L227.73,299.52 L227.25,299.29 L226.76,299.06 L226.28,298.83 L225.79,298.61 L225.30,298.38 L224.82,298.15 L224.33,297.93 L223.85,297.71 L223.36,297.48 L222.87,297.26 L222.39,297.04 L221.90,296.82 L221.41,296.60 L220.92,296.38 L220.44,296.16 L219.95,295.95 L219.46,295.73 L218.97,295.52 L218.48,295.30 L217.99,295.09 L217.50,294.88 L217.01,294.66 L216.52,294.45 L216.03,294.24 L215.54,294.03 L215.05,293.83 L214.56,293.62 L214.07,293.41 L213.58,293.21 L213.09,293.00 L212.60,292.80 L212.11,292.60 L211.61,292.39 L211.12,292.19 L210.63,291.99 L210.14,291.79 L209.64,291.59 L209.15,291.40 L208.66,291.20 L208.16,291.00 L207.67,290.81 L207.18,290.62 L206.68,290.42 L206.19,290.23 L205.69,290.04 L205.20,289.85 L204.70,289.66 L204.21,289.47 L203.71,289.28 L203.21,289.10 L202.72,288.91 L202.22,288.73 L201.72,288.54 L201.23,288.36 L200.73,288.18 L200.23,288.00 L199.73,287.82 L199.24,287.64 L198.74,287.46 L198.24,287.29 L197.74,287.11 L197.24,286.93 L196.74,286.76 L196.24,286.59 L195.74,286.41 L195.24,286.24 L194.74,286.07 L194.24,285.90 L193.74,285.74 L193.24,285.57 L192.74,285.40 L192.24,285.24 L191.74,285.07 L191.24,284.91 L190.73,284.75 L190.23,284.59 L189.73,284.43 L189.23,284.27 L188.72,284.11 L188.22,283.95 L187.72,283.79 L187.21,283.64 L186.71,283.48 L186.20,283.33 L185.70,283.18 L185.20,283.03 L184.69,282.88 L184.19,282.73 L183.68,282.58 L183.17,282.43 L182.67,282.29 L182.16,282.14 L181.66,282.00 L181.15,281.85 L180.64,281.71 L180.14,281.57 L179.63,281.43 L179.12,281.29 L178.61,281.15 L178.10,281.02 L177.60,280.88 L177.09,280.75 L176.58,280.61 L176.07,280.48 L175.56,280.35 L175.05,280.22 L174.54,280.09 L174.03,279.96 L173.52,279.83 L173.01,279.71 L172.50,279.58 L171.99,279.46 L171.48,279.34 L170.97,279.22 L170.45,279.09 L169.94,278.97 L169.43,278.86 L168.92,278.74 L168.40,278.62 L167.89,278.51 L167.38,278.39 L166.86,278.28 L166.35,278.17 L165.84,278.06 L165.32,277.95 L164.81,277.84 L164.29,277.73 L163.78,277.63 L163.26,277.52 L162.75,277.42 L162.23,277.31 L161.72,277.21 L161.20,277.11 L160.68,277.01 L160.17,276.91 L159.65,276.82 L159.13,276.72 L158.61,276.62 L158.10,276.53 L157.58,276.44 L157.06,276.35 L156.54,276.26 L156.02,276.17 L155.50,276.08 L154.99,275.99 L154.47,275.91 L153.95,275.82 L153.43,275.74 L152.91,275.66 L152.39,275.58 L151.87,275.50 L151.34,275.42 L150.82,275.34 L150.30,275.26 L149.78,275.19 L149.26,275.11 L148.74,275.04 L148.21,274.97 L147.69,274.90 L147.17,274.83 L146.64,274.76 L146.12,274.69 L145.60,274.63 L145.07,274.56 L144.55,274.50 L144.02,274.44 L143.50,274.38 L142.97,274.32 L142.45,274.26 L141.92,274.20 L141.40,274.15 L140.87,274.09 L140.35,274.04 L139.82,273.99 L139.29,273.94 L138.77,273.89 L138.24,273.84 L137.71,273.79 L137.18,273.74 L136.65,273.70 L136.13,273.66 L135.60,273.61 L135.07,273.57 L134.54,273.53 L134.01,273.49 L133.48,273.46 L132.95,273.42 L132.42,273.39 L131.89,273.35 L131.36,273.32 L130.83,273.29 L130.30,273.26 L129.77,273.23 L129.23,273.20 L128.70,273.18 L128.17,273.15 L127.64,273.13 L127.11,273.11 L126.57,273.09 L126.04,273.07 L125.51,273.05 L124.97,273.03 L124.44,273.02 L123.90,273.00 L123.37,272.99 L122.84,272.98 L122.30,272.97 L121.76,272.96 L121.23,272.95 L120.69,272.95 L120.16,272.94 L119.62,272.94 L119.08,272.93 L118.55,272.93 L118.01,272.93 L117.47,272.94 L116.94,272.94 L116.40,272.94 L115.86,272.95 L115.32,272.95 L114.78,272.96 L114.24,272.97 L113.70,272.98 L113.17,273.00 L112.63,273.01 L112.09,273.02 L111.55,273.04 L111.00,273.06 L110.46,273.08 L109.92,273.10 L109.38,273.12 L108.84,273.14 L108.30,273.17" stroke="#000" stroke-width="3.7" stroke-dasharray="12.37 4.66"/>
<path d="M108.21,273.43 L108.81,273.39 L109.42,273.35 L110.02,273.31 L110.62,273.28 L111.22,273.24 L111.82,273.21 L112.42,273.18 L113.02,273.16 L113.62,273.13 L114.22,273.11 L114.82,273.09 L115.42,273.07 L116.02,273.06 L116.62,273.04 L117.21,273.03 L117.81,273.02 L118.41,273.01 L119.01,273.00 L119.61,273.00 L120.20,273.00 L120.80,273.00 L121.40,273.00 L121.99,273.00 L122.59,273.01 L123.18,273.02 L123.78,273.03 L124.37,273.04 L124.97,273.05 L125.56,273.07 L126.16,273.09 L126.75,273.11 L127.34,273.13 L127.94,273.15 L128.53,273.18 L129.12,273.20 L129.72,273.23 L130.31,273.27 L130.90,273.30 L131.49,273.33 L132.08,273.37 L132.67,273.41 L133.26,273.45 L133.85,273.49 L134.44,273.54 L135.03,273.59 L135.62,273.63 L136.21,273.69 L136.80,273.74 L137.39,273.79 L137.97,273.85 L138.56,273.91 L139.15,273.97 L139.73,274.03 L140.32,274.09 L140.91,274.16 L141.49,274.23 L142.08,274.30 L142.66,274.37 L143.25,274.44 L143.83,274.51 L144.42,274.59 L145.00,274.67 L145.58,274.75 L146.16,274.83 L146.75,274.92 L147.33,275.00 L147.91,275.09 L148.49,275.18 L149.07,275.27 L149.65,275.36 L150.23,275.46 L150.81,275.56 L151.39,275.65 L151.97,275.75 L152.55,275.86 L153.13,275.96 L153.71,276.07 L154.28,276.17 L154.86,276.28 L155.44,276.39 L156.01,276.51 L156.59,276.62 L157.16,276.74 L157.74,276.86 L158.31,276.98 L158.89,277.10 L159.46,277.22 L160.03,277.34 L160.61,277.47 L161.18,277.60 L161.75,277.73 L162.32,277.86 L162.89,278.00 L163.47,278.13 L164.04,278.27 L164.61,278.41 L165.17,278.55 L165.74,278.69 L166.31,278.83 L166.88,278.98 L167.45,279.12 L168.02,279.27 L168.58,279.42 L169.15,279.57 L169.71,279.73 L170.28,279.88 L170.84,280.04 L171.41,280.20 L171.97,280.36 L172.54,280.52 L173.10,280.68 L173.66,280.85 L174.22,281.02 L174.79,281.19 L175.35,281.36 L175.91,281.53 L176.47,281.70 L177.03,281.87 L177.59,282.05 L178.15,282.23 L178.70,282.41 L179.26,282.59 L179.82,282.77 L180.38,282.96 L180.93,283.14 L181.49,283.33 L182.04,283.52 L182.60,283.71 L183.15,283.90 L183.71,284.10 L184.26,284.29 L184.81,284.49 L185.36,284.69 L185.92,284.89 L186.47,285.09 L187.02,285.29 L187.57,285.49 L188.12,285.70 L188.67,285.91 L189.21,286.12 L189.76,286.33 L190.31,286.54 L190.86,286.75 L191.40,286.97 L191.95,287.18 L192.49,287.40 L193.04,287.62 L193.58,287.84 L194.13,288.06 L194.67,288.29 L195.21,288.51 L195.76,288.74 L196.30,288.97 L196.84,289.20 L197.38,289.43 L197.92,289.66 L198.46,289.90 L199.00,290.13 L199.53,290.37 L200.07,290.61 L200.61,290.85 L201.15,291.09 L201.68,291.33 L202.22,291.57 L202.75,291.82 L203.29,292.07 L203.82,292.31 L204.35,292.56 L204.88,292.81 L205.42,293.07 L205.95,293.32 L206.48,293.57 L207.01,293.83 L207.54,294.09 L208.07,294.35 L208.59,294.61 L209.12,294.87 L209.65,295.13 L210.17,295.40 L210.70,295.66 L211.23,295.93 L211.75,296.20 L212.27,296.47 L212.80,296.74 L213.32,297.01 L213.84,297.29 L214.36,297.56 L214.88,297.84 L215.40,298.12 L215.92,298.39 L216.44,298.68 L216.96,298.96 L217.48,299.24 L217.99,299.52 L218.51,299.81 L219.03,300.10 L219.54,300.38 L220.06,300.67 L220.57,300.96 L221.08,301.26 L221.59,301.55 L222.11,301.84 L222.62,302.14 L223.13,302.44 L223.64,302.73 L224.15,303.03 L224.65,303.33 L225.16,303.63 L225.67,303.94 L226.18,304.24 L226.68,304.55 L227.19,304.85 L227.69,305.16 L228.19,305.47 L228.70,305.78 L229.20,306.09 L229.70,306.40 L230.20,306.72 L230.70,307.03 L231.20,307.35 L231.70,307.67 L232.20,307.98 L232.70,308.30 L233.19,308.62 L233.69,308.95 L234.18,309.27 L234.68,309.59 L235.17,309.92 L235.67,310.24 L236.16,310.57 L236.65,310.90 L237.14,311.23 L237.63,311.56 L238.12,311.89 L238.61,312.23 L239.10,312.56 L239.58,312.90 L240.07,313.23 L240.56,313.57 L241.04,313.91 L241.53,314.25 L242.01,314.59 L242.49,314.93 L242.98,315.27 L243.46,315.62 L243.94,315.96 L244.42,316.31 L244.90,316.66 L245.37,317.00 L245.85,317.35 L246.33,317.70 L246.81,318.05 L247.28,318.41 L247.76,318.76 L248.23,319.11 L248.70,319.47 L249.17,319.83 L249.65,320.18 L250.12,320.54 L250.59,320.90 L251.06,321.26 L251.52,321.62 L251.99,321.99 L252.46,322.35 L252.92,322.71 L253.39,323.08 L253.85,323.45 L254.32,323.81 L254.78,324.18 L255.24,324.55 L255.70,324.92 L256.16,325.29 L256.62,325.66 L257.08,326.04 L257.54,326.41 L258.00,326.79 L258.45,327.16 L258.91,327.54 L259.36,327.92 L259.82,328.29 L260.27,328.67 L260.72,329.05 L261.17,329.44 L261.62,329.82 L262.07,330.20 L262.52,330.58 L262.97,330.97 L263.42,331.36 L263.86,331.74 L264.31,332.13 L264.75,332.52 L265.20,332.91 L265.64,333.30 L266.08,333.69 L266.52,334.08 L266.97,334.47 L267.40,334.87 L267.84,335.26 L268.28,335.66 L268.72,336.05 L269.15,336.45 L269.59,336.85 L270.02,337.25 L270.46,337.65 L270.89,338.05 L271.32,338.45 L271.75,338.85 L272.18,339.25 L272.61,339.65 L273.04,340.06 L273.47,340.46 L273.89,340.87 L274.32,341.28 L274.74,341.68 L275.17,342.09 L275.59,342.50 L276.01,342.91 L276.43,343.32 L276.85,343.73 L277.27,344.14 L277.69,344.56 L278.11,344.97 L278.53,345.38 L278.94,345.80 L279.36,346.21 L279.77,346.63 L280.19,347.05 L280.60,347.46 L281.01,347.88 L281.42,348.30 L281.84,348.72 L282.25,349.14 L282.66,349.56 L283.07,349.98 L283.48,350.40 L283.88,350.82 L284.29,351.24 L284.70,351.66 L285.11,352.08 L285.51,352.50 L285.92,352.93 L286.33,353.35 L286.73,353.77 L287.14,354.20 L287.54,354.62 L287.95,355.04 L288.35,355.47 L288.76,355.89 L289.16,356.32 L289.57,356.74 L289.97,357.17 L290.38,357.59 L290.78,358.02 L291.18,358.44 L291.59,358.87 L291.99,359.29 L292.40,359.72 L292.80,360.15 L293.20,360.57 L293.61,361.00 L294.01,361.42 L294.42,361.85 L294.82,362.27 L295.22,362.70 L295.63,363.12 L296.03,363.55 L296.44,363.97 L296.84,364.40 L297.25,364.82 L297.65,365.25 L298.06,365.67 L298.47,366.09 L298.87,366.52 L299.28,366.94 L299.69,367.36 L300.10,367.79 L300.50,368.21 L300.91,368.63 L301.32,369.05 L301.73,369.47 L302.14,369.89 L302.55,370.31 L302.96,370.73 L303.38,371.15 L303.79,371.57 L304.20,371.99 L304.62,372.41 L305.03,372.83 L305.45,373.24 L305.86,373.66 L306.28,374.08 L306.70,374.49 L307.12,374.91 L307.54,375.32 L307.96,375.73 L308.38,376.14 L308.80,376.56 L309.22,376.97 L309.65,377.38 L310.07,377.79 L310.50,378.20 L310.92,378.60 L311.35,379.01 L311.78,379.42 L312.21,379.82 L312.64,380.23 L313.08,380.63 L313.51,381.03 L313.94,381.44 L314.38,381.84 L314.82,382.24 L315.25,382.63 L315.69,383.03 L316.14,383.43 L316.58,383.83 L317.02,384.22 L317.47,384.61 L317.91,385.01 L318.36,385.40 L318.81,385.79 L319.26,386.18 L319.71,386.57 L320.17,386.95 L320.62,387.34 L321.08,387.72 L321.53,388.11 L321.99,388.49 L322.46,388.87 L322.92,389.25 L323.38,389.63 L323.85,390.00 L324.32,390.38 L324.79,390.75 L325.26,391.12 L325.73,391.50 L326.21,391.87 L326.68,392.23 L327.16,392.60 L327.64,392.97 L328.13,393.33 L328.61,393.69 L329.10,394.05 L329.58,394.41 L330.08,394.76 L330.57,395.11 L331.06,395.45 L331.56,395.79 L332.06,396.13 L332.56,396.46 L333.06,396.79 L333.56,397.11 L334.07,397.43 L334.58,397.74 L335.09,398.05 L335.60,398.35 L336.12,398.64 L336.64,398.93 L337.16,399.20 L337.68,399.47 L338.20,399.74 L338.73,399.99 L339.26,400.24 L339.79,400.47 L340.32,400.70 L340.86,400.92 L341.40,401.13 L341.94,401.33 L342.48,401.52 L343.03,401.70 L343.58,401.87 L344.13,402.02 L344.68,402.17 L345.24,402.30 L345.80,402.42 L346.36,402.53 L346.92,402.63 L347.49,402.72 L348.05,402.79 L348.62,402.85 L349.19,402.90 L349.76,402.94 L350.33,402.97 L350.90,402.98 L351.47,402.99 L352.04,402.98 L352.61,402.96 L353.18,402.93 L353.75,402.89 L354.32,402.84 L354.89,402.78 L355.45,402.70 L356.02,402.62 L356.58,402.52 L357.14,402.42 L357.69,402.30 L358.25,402.17 L358.80,402.04 L359.34,401.89 L359.89,401.73 L360.43,401.56 L360.96,401.38 L361.50,401.19 L362.03,400.99 L362.56,400.78 L363.08,400.56 L363.60,400.34 L364.12,400.10 L364.63,399.86 L365.14,399.60 L365.65,399.34 L366.16,399.07 L366.66,398.79 L367.16,398.50 L367.65,398.21 L368.15,397.90 L368.63,397.59 L369.12,397.28 L369.60,396.95 L370.08,396.62 L370.56,396.28 L371.03,395.93 L371.50,395.58 L371.97,395.22 L372.43,394.85 L372.90,394.48 L373.35,394.10 L373.81,393.71 L374.26,393.32 L374.71,392.92 L375.15,392.52 L375.60,392.11 L376.03,391.70 L376.47,391.28 L376.90,390.86 L377.33,390.43 L377.76,390.00 L378.19,389.57 L378.61,389.13 L379.02,388.68 L379.44,388.23 L379.85,387.78 L380.26,387.33 L380.67,386.87 L381.07,386.40 L381.47,385.94 L381.87,385.47 L382.26,385.00 L382.65,384.52 L383.04,384.05 L383.43,383.57 L383.81,383.09 L384.19,382.60 L384.56,382.12 L384.94,381.63 L385.31,381.14 L385.67,380.65 L386.04,380.16 L386.40,379.67 L386.76,379.17 L387.12,378.68 L387.47,378.18 L387.82,377.69 L388.17,377.19 L388.51,376.69 L388.85,376.20 L389.19,375.70 L389.53,375.20 L389.86,374.70 L390.19,374.20 L390.52,373.70 L390.85,373.20 L391.17,372.70 L391.49,372.19 L391.81,371.69 L392.13,371.19 L392.45,370.68 L392.76,370.18 L393.07,369.67 L393.38,369.17 L393.68,368.66 L393.99,368.15 L394.29,367.65 L394.59,367.14 L394.89,366.63 L395.18,366.12 L395.48,365.61 L395.77,365.10 L396.06,364.59 L396.35,364.08 L396.64,363.57 L396.92,363.06 L397.21,362.55 L397.49,362.04 L397.77,361.53 L398.05,361.01 L398.33,360.50 L398.61,359.99 L398.88,359.47 L399.16,358.96 L399.43,358.44 L399.70,357.93 L399.97,357.41 L400.24,356.90 L400.51,356.38 L400.78,355.87 L401.05,355.35 L401.31,354.83 L401.58,354.31 L401.84,353.80 L402.10,353.28 L402.36,352.76 L402.63,352.24 L402.89,351.72 L403.15,351.21 L403.41,350.69 L403.66,350.17 L403.92,349.65 L404.18,349.13 L404.44,348.61 L404.70,348.09 L404.95,347.57 L405.21,347.05 L405.46,346.53 L405.72,346.00 L405.98,345.48 L406.23,344.96 L406.49,344.44 L406.74,343.92 L407.00,343.40 L407.25,342.88 L407.51,342.35 L407.76,341.83 L408.02,341.31 L408.27,340.79 L408.53,340.26 L408.79,339.74 L409.04,339.22 L409.30,338.70 L409.56,338.17 L409.81,337.65 L410.07,337.13 L410.33,336.61 L410.59,336.08 L410.85,335.56 L411.11,335.04 L411.37,334.51 L411.63,333.99 L411.89,333.47 L412.16,332.95 L412.42,332.42 L412.68,331.90 L412.95,331.38 L413.21,330.85 L413.47,330.33 L413.74,329.81 L414.01,329.28 L414.27,328.76 L414.54,328.24 L414.81,327.72 L415.07,327.19 L415.34,326.67 L415.61,326.15 L415.88,325.62 L416.15,325.10 L416.42,324.58 L416.69,324.05 L416.96,323.53 L417.23,323.01 L417.50,322.48 L417.77,321.96 L418.04,321.44 L418.31,320.91 L418.59,320.39 L418.86,319.87 L419.13,319.34 L419.40,318.82 L419.68,318.30 L419.95,317.77 L420.23,317.25 L420.50,316.73 L420.78,316.20 L421.05,315.68 L421.33,315.16 L421.60,314.63 L421.88,314.11 L422.15,313.59 L422.43,313.06 L422.71,312.54 L422.99,312.02 L423.26,311.50 L423.54,310.97 L423.82,310.45 L424.10,309.93 L424.37,309.40 L424.65,308.88 L424.93,308.36 L425.21,307.83 L425.49,307.31 L425.77,306.79 L426.05,306.26 L426.33,305.74 L426.61,305.22 L426.89,304.70 L427.17,304.17 L427.45,303.65 L427.73,303.13 L428.01,302.60 L428.29,302.08 L428.57,301.56 L428.85,301.04 L429.13,300.51 L429.41,299.99 L429.69,299.47 L429.97,298.95 L430.25,298.42 L430.53,297.90 L430.81,297.38 L431.09,296.85 L431.37,296.33 L431.66,295.81 L431.94,295.29 L432.22,294.77 L432.50,294.24 L432.78,293.72 L433.06,293.20 L433.34,292.68 L433.62,292.15 L433.91,291.63 L434.19,291.11 L434.47,290.59 L434.75,290.07 L435.03,289.55 L435.31,289.02 L435.59,288.50 L435.87,287.98 L436.15,287.46 L436.43,286.94 L436.72,286.42 L437.00,285.89 L437.28,285.37 L437.56,284.85 L437.84,284.33 L438.12,283.81 L438.40,283.29 L438.68,282.77 L438.96,282.25 L439.24,281.72 L439.52,281.20 L439.79,280.68 L440.07,280.16 L440.35,279.64 L440.63,279.12 L440.91,278.60 L441.19,278.08 L441.47,277.56 L441.74,277.04 L442.02,276.52 L442.30,276.00 L442.58,275.48 L442.85,274.96 L443.13,274.44 L443.41,273.92 L443.68,273.40 L443.96,272.88 L444.24,272.36 L444.51,271.84 L444.79,271.32 L445.06,270.80 L445.34,270.28 L445.61,269.76 L445.89,269.24 L446.16,268.72 L446.44,268.21 L446.71,267.69 L446.98,267.17 L447.26,266.65 L447.53,266.13 L447.80,265.61 L448.08,265.09 L448.35,264.58 L448.62,264.06 L448.90,263.54 L449.17,263.02 L449.44,262.50 L449.72,261.99 L449.99,261.47 L450.26,260.95 L450.54,260.44 L450.81,259.92 L451.08,259.40 L451.36,258.88 L451.63,258.37 L451.91,257.85 L452.18,257.33 L452.45,256.82 L452.73,256.30 L453.00,255.79 L453.27,255.27 L453.55,254.75 L453.82,254.24 L454.10,253.72 L454.37,253.21 L454.65,252.69 L454.92,252.18 L455.20,251.66 L455.47,251.15 L455.75,250.64 L456.03,250.12 L456.30,249.61 L456.58,249.09 L456.85,248.58 L457.13,248.07 L457.41,247.55 L457.69,247.04 L457.97,246.53 L458.24,246.01 L458.52,245.50 L458.80,244.99 L459.08,244.48 L459.36,243.96 L459.64,243.45 L459.92,242.94 L460.20,242.43 L460.48,241.92 L460.77,241.41 L461.05,240.90 L461.33,240.38 L461.61,239.87 L461.90,239.36 L462.18,238.85 L462.47,238.34 L462.75,237.83 L463.04,237.33 L463.33,236.82 L463.61,236.31 L463.90,235.80 L464.19,235.29 L464.48,234.78 L464.77,234.27 L465.06,233.77 L465.35,233.26 L465.64,232.75 L465.93,232.24 L466.22,231.74 L466.52,231.23 L466.81,230.72 L467.10,230.22 L467.40,229.71 L467.69,229.21 L467.99,228.70 L468.29,228.20 L468.59,227.69 L468.89,227.19 L469.19,226.68 L469.49,226.18 L469.79,225.67 L470.09,225.17 L470.39,224.67 L470.69,224.16 L471.00,223.66 L471.30,223.16 L471.61,222.66 L471.91,222.15 L472.22,221.65 L472.53,221.15 L472.84,220.65 L473.15,220.15 L473.46,219.65 L473.77,219.15 L474.08,218.65 L474.39,218.15 L474.70,217.65 L475.02,217.15 L475.33,216.65 L475.65,216.16 L475.96,215.66 L476.28,215.16 L476.60,214.66 L476.91,214.17 L477.23,213.67 L477.55,213.18 L477.87,212.68 L478.19,212.18 L478.51,211.69 L478.84,211.19 L479.16,210.70 L479.48,210.21 L479.81,209.71 L480.13,209.22 L480.46,208.73 L480.79,208.24 L481.11,207.74 L481.44,207.25 L481.77,206.76 L482.10,206.27 L482.43,205.78 L482.76,205.29 L483.09,204.80 L483.43,204.31 L483.76,203.82 L484.09,203.33 L484.43,202.85 L484.76,202.36 L485.10,201.87 L485.44,201.39 L485.77,200.90 L486.11,200.41 L486.45,199.93 L486.79,199.44 L487.13,198.96 L487.47,198.48 L487.81,197.99 L488.16,197.51 L488.50,197.03 L488.85,196.55 L489.19,196.06 L489.54,195.58 L489.88,195.10 L490.23,194.62 L490.58,194.14 L490.93,193.66 L491.28,193.19 L491.63,192.71 L491.98,192.23 L492.33,191.75 L492.68,191.28 L493.03,190.80 L493.39,190.32 L493.74,189.85 L494.10,189.37 L494.45,188.90 L494.81,188.43 L495.17,187.95 L495.53,187.48 L495.88,187.01 L496.24,186.54 L496.60,186.07 L496.97,185.60 L497.33,185.13 L497.69,184.66 L498.05,184.19 L498.42,183.72 L498.78,183.25 L499.15,182.79 L499.51,182.32 L499.88,181.86 L500.25,181.39 L500.62,180.93 L500.99,180.46 L501.36,180.00 L501.73,179.54 L502.10,179.07 L502.47,178.61 L502.84,178.15 L503.22,177.69 L503.59,177.23 L503.97,176.77 L504.34,176.31 L504.72,175.85 L505.09,175.40 L505.47,174.94 L505.85,174.48 L506.23,174.03 L506.61,173.57 L506.99,173.12 L507.37,172.67 L507.76,172.21 L508.14,171.76 L508.52,171.31 L508.91,170.86 L509.29,170.41 L509.68,169.96 L510.06,169.51 L510.45,169.06 L510.84,168.61 L511.23,168.17 L511.62,167.72 L512.01,167.27 L512.40,166.83 L512.79,166.38 L513.19,165.94 L513.58,165.50 L513.97,165.06 L514.37,164.61 L514.76,164.17 L515.16,163.73 L515.56,163.29 L515.95,162.86 L516.35,162.42 L516.75,161.98 L517.15,161.54 L517.55,161.11 L517.95,160.67 L518.36,160.24 L518.76,159.81 L519.16,159.37 L519.57,158.94 L519.97,158.51 L520.38,158.08 L520.78,157.65 L521.19,157.22 L521.60,156.79 L522.01,156.36 L522.42,155.94 L522.83,155.51 L523.24,155.09 L523.65,154.66 L524.06,154.24 L524.47,153.81 L524.89,153.39 L525.30,152.97 L525.72,152.55 L526.13,152.13 L526.55,151.71 L526.97,151.29 L527.39,150.88 L527.81,150.46 L528.22,150.04 L528.65,149.63 L529.07,149.22 L529.49,148.80 L529.91,148.39 L530.33,147.98 L530.76,147.57 L531.18,147.16 L531.61,146.75 L532.03,146.34 L532.46,145.93 L532.89,145.53 L533.32,145.12 L533.75,144.72 L534.18,144.31 L534.61,143.91 L535.04,143.51 L535.47,143.11 L535.90,142.71 L536.34,142.31 L536.77,141.91 L537.21,141.51 L537.64,141.11 L538.08,140.72 L538.52,140.32 L538.95,139.93 L539.39,139.53 L539.83,139.14 L540.27,138.75 L540.71,138.36 L541.15,137.97 L541.60,137.58 L542.04,137.19 L542.48,136.81 L542.93,136.42 L543.37,136.04 L543.82,135.65 L544.27,135.27 L544.71,134.89 L545.16,134.50 L545.61,134.12 L546.06,133.75 L546.51,133.37 L546.96,132.99 L547.41,132.61 L547.87,132.24 L548.32,131.86 L548.77,131.49 L549.23,131.12 L549.68,130.75 L550.14,130.37 L550.60,130.00 L551.06,129.64 L551.51,129.27 L551.97,128.90 L552.43,128.54 L552.89,128.17 L553.36,127.81 L553.82,127.45 L554.28,127.08 L554.74,126.72 L555.21,126.36 L555.67,126.00 L556.14,125.65 L556.61,125.29 L557.07,124.94 L557.54,124.58 L558.01,124.23 L558.48,123.87 L558.95,123.52 L559.42,123.17 L559.89,122.82 L560.36,122.48 L560.84,122.13 L561.31,121.78 L561.78,121.44 L562.26,121.09 L562.74,120.75 L563.21,120.41 L563.69,120.07 L564.17,119.73 L564.65,119.39 L565.12,119.05 L565.60,118.71 L566.09,118.37 L566.57,118.04 L567.05,117.71 L567.53,117.37 L568.01,117.04 L568.50,116.71 L568.98,116.38 L569.47,116.05 L569.95,115.72 L570.44,115.39 L570.93,115.07 L571.42,114.74 L571.91,114.42 L572.39,114.09 L572.88,113.77 L573.37,113.45 L573.87,113.13 L574.36,112.81 L574.85,112.49 L575.34,112.18 L575.84,111.86 L576.33,111.54 L576.83,111.23 L577.32,110.92 L577.82,110.60 L578.32,110.29 L578.81,109.98 L579.31,109.67 L579.81,109.36 L580.31,109.05 L580.81,108.75 L581.31,108.44 L581.81,108.14 L582.31,107.83 L582.82,107.53 L583.32,107.23 L583.82,106.93 L584.33,106.63 L584.83,106.33 L585.34,106.03 L585.84,105.73 L586.35,105.44 L586.86,105.14 L587.36,104.85 L587.87,104.55 L588.38,104.26 L588.89,103.97 L589.40,103.68 L589.91,103.39 L590.42,103.10 L590.93,102.81 L591.45,102.52 L591.96,102.24 L592.47,101.95 L592.99,101.67 L593.50,101.39 L594.01,101.10 L594.53,100.82 L595.05,100.54 L595.56,100.26 L596.08,99.98 L596.60,99.71 L597.12,99.43 L597.63,99.15 L598.15,98.88 L598.67,98.60 L599.19,98.33 L599.71,98.06 L600.24,97.79 L600.76,97.52 L601.28,97.25 L601.80,96.98 L602.33,96.71 L602.85,96.44 L603.37,96.18 L603.90,95.91 L604.42,95.65 L604.95,95.39 L605.48,95.12 L606.00,94.86 L606.53,94.60 L607.06,94.34 L607.59,94.08 L608.12,93.82 L608.64,93.57 L609.17,93.31 L609.70,93.06 L610.24,92.80 L610.77,92.55 L611.30,92.30 L611.83,92.04 L612.36,91.79 L612.90,91.54 L613.43,91.29 L613.96,91.05 L614.50,90.80 L615.03,90.55 L615.57,90.31 L616.10,90.06 L616.64,89.82 L617.18,89.57 L617.71,89.33 L618.25,89.09 L618.79,88.85 L619.33,88.61 L619.86,88.37 L620.40,88.13 L620.94,87.90 L621.48,87.66 L622.02,87.42 L622.56,87.19 L623.11,86.96 L623.65,86.72 L624.19,86.49 L624.73,86.26 L625.27,86.03 L625.82,85.80 L626.36,85.57 L626.90,85.34 L627.45,85.12 L627.99,84.89 L628.54,84.67 L629.08,84.44 L629.63,84.22 L630.18,83.99 L630.72,83.77 L631.27,83.55 L631.82,83.33 L632.37,83.11 L632.91,82.89 L633.46,82.67 L634.01,82.46 L634.56,82.24 L635.11,82.03 L635.66,81.81 L636.21,81.60 L636.76,81.38 L637.31,81.17 L637.86,80.96 L638.41,80.75 L638.97,80.54 L639.52,80.33 L640.07,80.12 L640.62,79.92 L641.18,79.71 L641.73,79.50 L642.29,79.30 L642.84,79.09 L643.39,78.89 L643.95,78.69 L644.50,78.49 L645.06,78.28 L645.62,78.08 L646.17,77.88 L646.73,77.69 L647.29,77.49 L647.84,77.29 L648.40,77.09 L648.96,76.90 L649.52,76.70 L650.07,76.51 L650.63,76.32 L651.19,76.12 L651.75,75.93 L652.31,75.74 L652.87,75.55 L653.43,75.36 L653.99,75.17 L654.55,74.99 L655.11,74.80 L655.67,74.61 L656.23,74.43 L656.79,74.24 L657.36,74.06 L657.92,73.87 L658.48,73.69 L659.04,73.51 L659.61,73.33 L660.17,73.15 L660.73,72.97 L661.30,72.79 L661.86,72.61 L662.42,72.43 L662.99,72.26 L663.55,72.08 L664.12,71.91 L664.68,71.73 L665.25,71.56 L665.81,71.39 L666.38,71.21 L666.94,71.04 L667.51,70.87 L668.08,70.70 L668.64,70.53 L669.21,70.36 L669.78,70.20 L670.34,70.03 L670.91,69.86 L671.48,69.70 L672.05,69.53 L672.61,69.37 L673.18,69.20 L673.75,69.04 L674.32,68.88 L674.89,68.72 L675.46,68.56 L676.02,68.40 L676.59,68.24 L677.16,68.08 L677.73,67.92 L678.30,67.77 L678.87,67.61 L679.44,67.45 L680.01,67.30 L680.58,67.14 L681.15,66.99 L681.72,66.84 L682.29,66.69 L682.87,66.53 L683.44,66.38 L684.01,66.23 L684.58,66.08 L685.15,65.94 L685.72,65.79 L686.29,65.64 L686.87,65.49 L687.44,65.35 L688.01,65.20 L688.58,65.06 L689.15,64.91 L689.73,64.77 L690.30,64.63 L690.87,64.49 L691.44,64.35 L692.02,64.20 L692.59,64.06 L693.16,63.93 L693.74,63.79 L694.31,63.65 L694.88,63.51 L695.46,63.38 L696.03,63.24 L696.60,63.10 L697.18,62.97 L697.75,62.84 L698.33,62.70 L698.90,62.57 L699.47,62.44 L700.05,62.31 L700.62,62.18 L701.20,62.05 L701.77,61.92 L702.35,61.79 L702.92,61.66 L703.49,61.53 L704.07,61.41 L704.64,61.28 L705.22,61.15 L705.79,61.03 L706.37,60.91 L706.94,60.78 L707.52,60.66 L708.09,60.54 L708.67,60.41 L709.24,60.29 L709.82,60.17 L710.39,60.05 L710.97,59.93 L711.54,59.82 L712.12,59.70 L712.69,59.58 L713.27,59.46 L713.84,59.35 L714.42,59.23 L714.99,59.12 L715.57,59.00 L716.14,58.89 L716.72,58.78 L717.29,58.66 L717.87,58.55 L718.44,58.44 L719.02,58.33 L719.60,58.22 L720.17,58.11 L720.75,58.00 L721.32,57.89 L721.90,57.79 L722.47,57.68 L723.05,57.57 L723.62,57.47 L724.20,57.36 L724.77,57.26 L725.35,57.15 L725.92,57.05 L726.50,56.95 L727.07,56.84 L727.65,56.74 L728.22,56.64" stroke="#00ff00" stroke-width="3.7"/>
</g>
<line x1="62.6" y1="273.55" x2="485.6" y2="273.55" stroke="#000" stroke-width="2.2"/>
<path d="M377.90,273.60 L395.45,280.90 L393.70,273.60 L395.45,266.30 Z" fill="#000"/><path d="M184.80,348.60 L193.68,373.40 L195.90,366.38 L200.60,363.32 Z" fill="#000"/><path d="M292.90,87.80 L311.14,83.00 L307.51,77.51 L307.14,69.74 Z" fill="#000"/><path d="M277.10,168.20 L294.21,155.21 L289.58,151.44 L287.73,143.95 Z" fill="#000"/>
<path d="M62.1,7.75 H486.1 M62.1,423.9 H486.1" stroke="#6e6e6e" stroke-width="1.4" fill="none"/><path d="M62.6,7.75 V423.9 M485.6,7.75 V423.9" stroke="#6e6e6e" stroke-width="1.0" fill="none"/>
<line x1="71.20" y1="423.9" x2="71.20" y2="419.29999999999995" class="tk"/><line x1="71.20" y1="7.75" x2="71.20" y2="14.35" class="tk2"/><line x1="84.72" y1="423.9" x2="84.72" y2="421.0" class="tk"/><line x1="84.72" y1="7.75" x2="84.72" y2="11.05" class="tk2"/><line x1="98.23" y1="423.9" x2="98.23" y2="421.0" class="tk"/><line x1="98.23" y1="7.75" x2="98.23" y2="11.05" class="tk2"/><line x1="111.75" y1="423.9" x2="111.75" y2="421.0" class="tk"/><line x1="111.75" y1="7.75" x2="111.75" y2="11.05" class="tk2"/><line x1="125.26" y1="423.9" x2="125.26" y2="421.0" class="tk"/><line x1="125.26" y1="7.75" x2="125.26" y2="11.05" class="tk2"/><line x1="138.78" y1="423.9" x2="138.78" y2="419.29999999999995" class="tk"/><line x1="138.78" y1="7.75" x2="138.78" y2="14.35" class="tk2"/><line x1="152.30" y1="423.9" x2="152.30" y2="421.0" class="tk"/><line x1="152.30" y1="7.75" x2="152.30" y2="11.05" class="tk2"/><line x1="165.81" y1="423.9" x2="165.81" y2="421.0" class="tk"/><line x1="165.81" y1="7.75" x2="165.81" y2="11.05" class="tk2"/><line x1="179.33" y1="423.9" x2="179.33" y2="421.0" class="tk"/><line x1="179.33" y1="7.75" x2="179.33" y2="11.05" class="tk2"/><line x1="192.84" y1="423.9" x2="192.84" y2="421.0" class="tk"/><line x1="192.84" y1="7.75" x2="192.84" y2="11.05" class="tk2"/><line x1="206.36" y1="423.9" x2="206.36" y2="419.29999999999995" class="tk"/><line x1="206.36" y1="7.75" x2="206.36" y2="14.35" class="tk2"/><line x1="219.88" y1="423.9" x2="219.88" y2="421.0" class="tk"/><line x1="219.88" y1="7.75" x2="219.88" y2="11.05" class="tk2"/><line x1="233.39" y1="423.9" x2="233.39" y2="421.0" class="tk"/><line x1="233.39" y1="7.75" x2="233.39" y2="11.05" class="tk2"/><line x1="246.91" y1="423.9" x2="246.91" y2="421.0" class="tk"/><line x1="246.91" y1="7.75" x2="246.91" y2="11.05" class="tk2"/><line x1="260.42" y1="423.9" x2="260.42" y2="421.0" class="tk"/><line x1="260.42" y1="7.75" x2="260.42" y2="11.05" class="tk2"/><line x1="273.94" y1="423.9" x2="273.94" y2="419.29999999999995" class="tk"/><line x1="273.94" y1="7.75" x2="273.94" y2="14.35" class="tk2"/><line x1="287.46" y1="423.9" x2="287.46" y2="421.0" class="tk"/><line x1="287.46" y1="7.75" x2="287.46" y2="11.05" class="tk2"/><line x1="300.97" y1="423.9" x2="300.97" y2="421.0" class="tk"/><line x1="300.97" y1="7.75" x2="300.97" y2="11.05" class="tk2"/><line x1="314.49" y1="423.9" x2="314.49" y2="421.0" class="tk"/><line x1="314.49" y1="7.75" x2="314.49" y2="11.05" class="tk2"/><line x1="328.00" y1="423.9" x2="328.00" y2="421.0" class="tk"/><line x1="328.00" y1="7.75" x2="328.00" y2="11.05" class="tk2"/><line x1="341.52" y1="423.9" x2="341.52" y2="419.29999999999995" class="tk"/><line x1="341.52" y1="7.75" x2="341.52" y2="14.35" class="tk2"/><line x1="355.04" y1="423.9" x2="355.04" y2="421.0" class="tk"/><line x1="355.04" y1="7.75" x2="355.04" y2="11.05" class="tk2"/><line x1="368.55" y1="423.9" x2="368.55" y2="421.0" class="tk"/><line x1="368.55" y1="7.75" x2="368.55" y2="11.05" class="tk2"/><line x1="382.07" y1="423.9" x2="382.07" y2="421.0" class="tk"/><line x1="382.07" y1="7.75" x2="382.07" y2="11.05" class="tk2"/><line x1="395.58" y1="423.9" x2="395.58" y2="421.0" class="tk"/><line x1="395.58" y1="7.75" x2="395.58" y2="11.05" class="tk2"/><line x1="409.10" y1="423.9" x2="409.10" y2="419.29999999999995" class="tk"/><line x1="409.10" y1="7.75" x2="409.10" y2="14.35" class="tk2"/><line x1="422.62" y1="423.9" x2="422.62" y2="421.0" class="tk"/><line x1="422.62" y1="7.75" x2="422.62" y2="11.05" class="tk2"/><line x1="436.13" y1="423.9" x2="436.13" y2="421.0" class="tk"/><line x1="436.13" y1="7.75" x2="436.13" y2="11.05" class="tk2"/><line x1="449.65" y1="423.9" x2="449.65" y2="421.0" class="tk"/><line x1="449.65" y1="7.75" x2="449.65" y2="11.05" class="tk2"/><line x1="463.16" y1="423.9" x2="463.16" y2="421.0" class="tk"/><line x1="463.16" y1="7.75" x2="463.16" y2="11.05" class="tk2"/><line x1="476.68" y1="423.9" x2="476.68" y2="419.29999999999995" class="tk"/><line x1="476.68" y1="7.75" x2="476.68" y2="14.35" class="tk2"/><line x1="62.6" y1="402.07" x2="66.0" y2="402.07" class="tk"/><line x1="485.6" y1="402.07" x2="481.20000000000005" y2="402.07" class="tk2"/><line x1="62.6" y1="376.34" x2="64.7" y2="376.34" class="tk"/><line x1="485.6" y1="376.34" x2="483.40000000000003" y2="376.34" class="tk2"/><line x1="62.6" y1="350.61" x2="64.7" y2="350.61" class="tk"/><line x1="485.6" y1="350.61" x2="483.40000000000003" y2="350.61" class="tk2"/><line x1="62.6" y1="324.87" x2="64.7" y2="324.87" class="tk"/><line x1="485.6" y1="324.87" x2="483.40000000000003" y2="324.87" class="tk2"/><line x1="62.6" y1="299.13" x2="64.7" y2="299.13" class="tk"/><line x1="485.6" y1="299.13" x2="483.40000000000003" y2="299.13" class="tk2"/><line x1="62.6" y1="273.40" x2="66.0" y2="273.40" class="tk"/><line x1="485.6" y1="273.40" x2="481.20000000000005" y2="273.40" class="tk2"/><line x1="62.6" y1="247.66" x2="64.7" y2="247.66" class="tk"/><line x1="485.6" y1="247.66" x2="483.40000000000003" y2="247.66" class="tk2"/><line x1="62.6" y1="221.93" x2="64.7" y2="221.93" class="tk"/><line x1="485.6" y1="221.93" x2="483.40000000000003" y2="221.93" class="tk2"/><line x1="62.6" y1="196.19" x2="64.7" y2="196.19" class="tk"/><line x1="485.6" y1="196.19" x2="483.40000000000003" y2="196.19" class="tk2"/><line x1="62.6" y1="170.46" x2="64.7" y2="170.46" class="tk"/><line x1="485.6" y1="170.46" x2="483.40000000000003" y2="170.46" class="tk2"/><line x1="62.6" y1="144.72" x2="66.0" y2="144.72" class="tk"/><line x1="485.6" y1="144.72" x2="481.20000000000005" y2="144.72" class="tk2"/><line x1="62.6" y1="118.99" x2="64.7" y2="118.99" class="tk"/><line x1="485.6" y1="118.99" x2="483.40000000000003" y2="118.99" class="tk2"/><line x1="62.6" y1="93.25" x2="64.7" y2="93.25" class="tk"/><line x1="485.6" y1="93.25" x2="483.40000000000003" y2="93.25" class="tk2"/><line x1="62.6" y1="67.52" x2="64.7" y2="67.52" class="tk"/><line x1="485.6" y1="67.52" x2="483.40000000000003" y2="67.52" class="tk2"/><line x1="62.6" y1="41.78" x2="64.7" y2="41.78" class="tk"/><line x1="485.6" y1="41.78" x2="483.40000000000003" y2="41.78" class="tk2"/><line x1="62.6" y1="16.05" x2="66.0" y2="16.05" class="tk"/><line x1="485.6" y1="16.05" x2="481.20000000000005" y2="16.05" class="tk2"/>
<g transform="translate(72.20 450.7) scale(0.67 1)" fill="#666" font-size="21.5"><text x="-12.26" y="0">−</text><path transform="translate(0.30 0) scale(0.01050 -0.01050)" d="M575 0V1237L257 1010V1180L590 1409H756V0Z"/></g><g transform="translate(138.98 450.7) scale(0.67 1)" fill="#666" font-size="21.5"><text x="-5.98" y="0">0</text></g><g transform="translate(206.56 450.7) scale(0.67 1)" fill="#666" font-size="21.5"><path transform="translate(-5.98 0) scale(0.01050 -0.01050)" d="M575 0V1237L257 1010V1180L590 1409H756V0Z"/></g><g transform="translate(274.14 450.7) scale(0.67 1)" fill="#666" font-size="21.5"><text x="-5.98" y="0">2</text></g><g transform="translate(341.72 450.7) scale(0.67 1)" fill="#666" font-size="21.5"><text x="-5.98" y="0">3</text></g><g transform="translate(409.30 450.7) scale(0.67 1)" fill="#666" font-size="21.5"><text x="-5.98" y="0">4</text></g><g transform="translate(476.88 450.7) scale(0.67 1)" fill="#666" font-size="21.5"><text x="-5.98" y="0">5</text></g><g transform="translate(58.8 24.35) scale(0.67 1)" fill="#666" font-size="21.5"><path transform="translate(-29.89 0) scale(0.01050 -0.01050)" d="M575 0V1237L257 1010V1180L590 1409H756V0Z"/><text x="-17.93" y="0">.0</text></g><g transform="translate(58.8 153.02) scale(0.67 1)" fill="#666" font-size="21.5"><text x="-29.89" y="0">0.5</text></g><g transform="translate(58.8 281.70) scale(0.67 1)" fill="#666" font-size="21.5"><text x="-29.89" y="0">0.0</text></g><g transform="translate(58.8 410.38) scale(0.67 1)" fill="#666" font-size="21.5"><text x="-42.44" y="0">−0.5</text></g>

<g transform="scale(0.655 1)">
<line x1="118.93" y1="60" x2="199.39" y2="60" stroke="#0000ff" stroke-width="3.7" stroke-dasharray="5.50 4.93"/>
<line x1="118.93" y1="101" x2="199.39" y2="101" stroke="#000" stroke-width="3.7" stroke-dasharray="12.21 4.55"/>
<line x1="118.93" y1="142.4" x2="201.53" y2="142.4" stroke="#00ff00" stroke-width="3.7"/>
</g>

<text transform="translate(140.5 68.0) scale(0.665 1)" font-size="20.5" fill="#000" font-style="italic">δ</text><text transform="translate(151.4 68.0) scale(0.665 1)" font-size="20.5" fill="#000" >=</text><text transform="translate(164.5 68.0) scale(0.665 1)" font-size="20.5" fill="#000" >−</text><g transform="translate(176.4 68.0) scale(0.665 1)" fill="#000" font-size="20.5"><path transform="translate(0.00 0) scale(0.01001 -0.01001)" d="M575 0V1237L257 1010V1180L590 1409H756V0Z"/><text x="11.40" y="0">000</text></g>
<text transform="translate(140.5 110.3) scale(0.665 1)" font-size="20.5" fill="#000" font-style="italic">δ</text><text transform="translate(151.4 110.3) scale(0.665 1)" font-size="20.5" fill="#000" >=</text><text transform="translate(164.5 110.3) scale(0.665 1)" font-size="20.5" fill="#000" >−</text><g transform="translate(176.4 110.3) scale(0.665 1)" fill="#000" font-size="20.5"><path transform="translate(0.00 0) scale(0.01001 -0.01001)" d="M575 0V1237L257 1010V1180L590 1409H756V0Z"/><text x="11.40" y="0">200</text></g>
<text transform="translate(140.5 152.0) scale(0.665 1)" font-size="20.5" fill="#000" font-style="italic">δ</text><text transform="translate(151.4 152.0) scale(0.665 1)" font-size="20.5" fill="#000" >=</text><text transform="translate(164.5 152.0) scale(0.665 1)" font-size="20.5" fill="#000" >−</text><g transform="translate(176.4 152.0) scale(0.665 1)" fill="#000" font-size="20.5"><path transform="translate(0.00 0) scale(0.01001 -0.01001)" d="M575 0V1237L257 1010V1180L590 1409H756V0Z"/><text x="11.40" y="0">400</text></g>
<text transform="translate(369.6 251.4) scale(0.67 1)" font-size="20" fill="#000" text-anchor="start" >LCDM</text>
<text transform="translate(274.3 485.4) scale(0.72 1)" font-size="20.5" fill="#000" text-anchor="middle" >z</text>
<g transform="translate(19.6 234.8) scale(0.655 1) rotate(-90)" fill="#000">
<text x="0" y="0" font-size="23">S</text>
<text x="13.8" y="6.4" font-size="18">3</text>
<text x="15.8" y="-13.3" font-size="18">(2)</text>
</g>
</svg>
</body></html>
